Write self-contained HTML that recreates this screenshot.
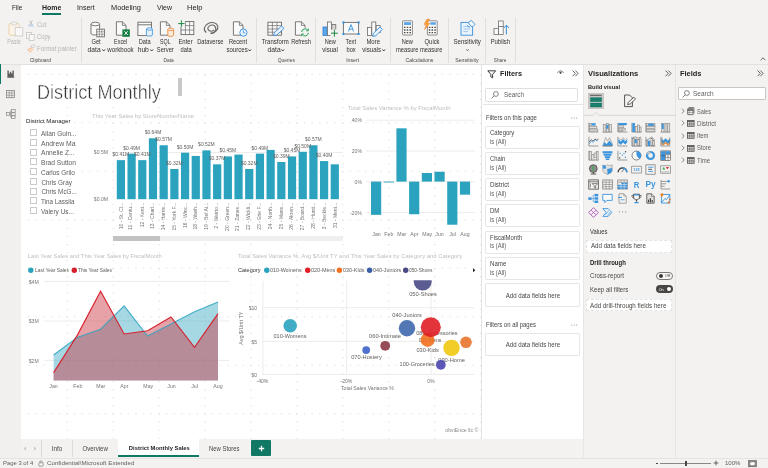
<!DOCTYPE html>
<html><head><meta charset="utf-8"><title>Power BI Desktop</title>
<style>
html,body{margin:0;padding:0;}
body{width:768px;height:468px;overflow:hidden;background:#f3f2f1;position:relative;font-family:"Liberation Sans",sans-serif;}
.t{position:absolute;white-space:nowrap;display:block;}
.b{position:absolute;box-sizing:border-box;display:block;overflow:visible;}
#root{position:absolute;left:0;top:0;width:768px;height:468px;will-change:transform;filter:blur(0.3px);}
</style></head><body><div id="root">
<div class="b" style="left:0.00px;top:63.50px;width:768.00px;height:1.00px;background:#e3e1df;"></div>
<div class="b" style="left:0.00px;top:64.50px;width:20.60px;height:393.00px;background:#f1f0ef;"></div>
<div class="b" style="left:0.00px;top:64.20px;width:1.35px;height:19.60px;background:#117865;"></div>
<div class="b" style="left:20.60px;top:64.50px;width:461.00px;height:374.60px;background:#ffffff;"></div>
<div class="b" style="left:481.00px;top:64.50px;width:1.00px;height:374.60px;background:#e6e4e2;"></div>
<div class="b" style="left:482.00px;top:64.50px;width:101.00px;height:374.60px;background:#ffffff;"></div>
<div class="b" style="left:583.00px;top:64.50px;width:1.00px;height:393.00px;background:#e8e6e4;"></div>
<div class="b" style="left:675.40px;top:64.50px;width:1.00px;height:393.00px;background:#e7e5e3;"></div>
<div class="b" style="left:20.60px;top:439.10px;width:562.40px;height:18.40px;background:#f3f2f1;"></div>
<div class="b" style="left:0.00px;top:457.50px;width:768.00px;height:1.00px;background:#e6e4e2;"></div>
<svg class="b" style="left:6.60px;top:69.60px;" width="8" height="8" viewBox="0 0 8 8"><path d="M0.4 7.4 V0.6 H1.8 V3.4 H2.9 V1.8 H4.3 V3.4 H5.4 V0.4 H6.8 V7.4 Z" fill="#605e5c"/><path d="M0.4 7.4 H7.4" stroke="#605e5c" stroke-width="0.6"/></svg>
<svg class="b" style="left:6.00px;top:89.80px;" width="9" height="8.4" viewBox="0 0 9 8.4"><rect x="0.5" y="0.5" width="8" height="7.2" fill="none" stroke="#8a8886" stroke-width="0.8"/><path d="M0.5 2.9 H8.5 M0.5 5.3 H8.5 M3.2 0.5 V7.7 M5.8 0.5 V7.7" stroke="#8a8886" stroke-width="0.65"/></svg>
<svg class="b" style="left:5.60px;top:109.20px;" width="10" height="10" viewBox="0 0 10 10"><rect x="0.5" y="3.6" width="3" height="3" fill="none" stroke="#8a8886" stroke-width="0.7"/><rect x="5.6" y="0.5" width="3.6" height="2.8" fill="none" stroke="#8a8886" stroke-width="0.7"/><rect x="5.6" y="3.8" width="3.6" height="2.6" fill="none" stroke="#8a8886" stroke-width="0.7"/><rect x="5.6" y="6.9" width="3.6" height="2.6" fill="none" stroke="#8a8886" stroke-width="0.7"/><path d="M3.5 5.1 H5.6 M4.5 1.9 V8.2 M4.5 1.9 H5.6 M4.5 8.2 H5.6" fill="none" stroke="#8a8886" stroke-width="0.6"/></svg>
<span class="t" style="left:11.70px;top:4.18px;font-size:7.3px;line-height:8.76px;color:#252423;transform-origin:0 50%;transform:scaleX(0.867);">File</span>
<span class="t" style="left:41.70px;top:4.18px;font-size:7.3px;line-height:8.76px;color:#252423;font-weight:bold;transform-origin:0 50%;transform:scaleX(0.952);">Home</span>
<div class="b" style="left:41.70px;top:13.40px;width:19.30px;height:1.30px;background:#117865;"></div>
<span class="t" style="left:76.60px;top:4.18px;font-size:7.3px;line-height:8.76px;color:#252423;transform-origin:0 50%;transform:scaleX(0.969);">Insert</span>
<span class="t" style="left:110.70px;top:4.18px;font-size:7.3px;line-height:8.76px;color:#252423;transform-origin:0 50%;transform:scaleX(1.009);">Modeling</span>
<span class="t" style="left:157.00px;top:4.18px;font-size:7.3px;line-height:8.76px;color:#252423;transform-origin:0 50%;transform:scaleX(0.956);">View</span>
<span class="t" style="left:187.00px;top:4.18px;font-size:7.3px;line-height:8.76px;color:#252423;transform-origin:0 50%;transform:scaleX(1.032);">Help</span>
<div class="b" style="left:81.00px;top:18.00px;width:1.00px;height:44.50px;background:#e1dfdd;"></div>
<div class="b" style="left:256.20px;top:18.00px;width:1.00px;height:44.50px;background:#e1dfdd;"></div>
<div class="b" style="left:315.30px;top:18.00px;width:1.00px;height:44.50px;background:#e1dfdd;"></div>
<div class="b" style="left:389.80px;top:18.00px;width:1.00px;height:44.50px;background:#e1dfdd;"></div>
<div class="b" style="left:447.50px;top:18.00px;width:1.00px;height:44.50px;background:#e1dfdd;"></div>
<div class="b" style="left:485.00px;top:18.00px;width:1.00px;height:44.50px;background:#e1dfdd;"></div>
<div class="b" style="left:515.00px;top:18.00px;width:1.00px;height:44.50px;background:#e1dfdd;"></div>
<span class="t" style="left:29.26px;top:57.19px;font-size:5.3px;line-height:6.36px;color:#4a4846;transform-origin:50% 50%;transform:scaleX(0.939);">Clipboard</span>
<span class="t" style="left:163.20px;top:57.19px;font-size:5.3px;line-height:6.36px;color:#4a4846;transform-origin:50% 50%;transform:scaleX(0.911);">Data</span>
<span class="t" style="left:277.12px;top:57.19px;font-size:5.3px;line-height:6.36px;color:#4a4846;transform-origin:50% 50%;transform:scaleX(0.927);">Queries</span>
<span class="t" style="left:346.37px;top:57.19px;font-size:5.3px;line-height:6.36px;color:#4a4846;transform-origin:50% 50%;transform:scaleX(0.981);">Insert</span>
<span class="t" style="left:405.06px;top:57.19px;font-size:5.3px;line-height:6.36px;color:#4a4846;transform-origin:50% 50%;transform:scaleX(0.970);">Calculations</span>
<span class="t" style="left:455.07px;top:57.19px;font-size:5.3px;line-height:6.36px;color:#4a4846;transform-origin:50% 50%;transform:scaleX(0.985);">Sensitivity</span>
<span class="t" style="left:493.23px;top:57.19px;font-size:5.3px;line-height:6.36px;color:#4a4846;transform-origin:50% 50%;transform:scaleX(0.884);">Share</span>
<svg class="b" style="left:7.50px;top:20.50px;" width="16" height="16" viewBox="0 0 16 16">
<rect x="1" y="2.6" width="10.2" height="11.6" rx="0.8" fill="#fbf3e8" stroke="#e9cfa8" stroke-width="0.9"/>
<rect x="3.6" y="1" width="5" height="3" rx="0.8" fill="#f3f2f1" stroke="#cfcdcb" stroke-width="0.8"/>
<rect x="7.2" y="6.6" width="7.6" height="8.4" fill="#f8f7f6" stroke="#cfcdcb" stroke-width="0.9"/>
</svg>
<span class="t" style="left:6.04px;top:38.08px;font-size:6.3px;line-height:7.56px;color:#b8b6b4;transform-origin:50% 50%;transform:scaleX(0.844);">Paste</span>
<svg class="b" style="left:28.00px;top:20.30px;" width="6" height="7.4" viewBox="0 0 6 7.4">
<path d="M1.6 0.4 L4 4.8 M4.4 0.4 L2 4.8" stroke="#b5b3b1" stroke-width="0.7" fill="none"/>
<circle cx="1.6" cy="5.6" r="0.9" fill="none" stroke="#9fc3e6" stroke-width="0.7"/>
<circle cx="4.4" cy="5.6" r="0.9" fill="none" stroke="#9fc3e6" stroke-width="0.7"/>
</svg>
<span class="t" style="left:36.50px;top:20.68px;font-size:6.3px;line-height:7.56px;color:#b8b6b4;transform-origin:0 50%;transform:scaleX(0.959);">Cut</span>
<svg class="b" style="left:26.40px;top:32.00px;" width="9" height="9" viewBox="0 0 9 9">
<rect x="0.6" y="0.6" width="5" height="6" fill="#f8f7f6" stroke="#c4c2c0" stroke-width="0.75"/>
<rect x="3.2" y="2.4" width="5" height="6" fill="#f8f7f6" stroke="#c4c2c0" stroke-width="0.75"/>
</svg>
<span class="t" style="left:36.50px;top:32.98px;font-size:6.3px;line-height:7.56px;color:#b8b6b4;transform-origin:0 50%;transform:scaleX(0.918);">Copy</span>
<svg class="b" style="left:26.80px;top:43.60px;" width="9" height="9" viewBox="0 0 9 9">
<path d="M4.2 1.6 L7.6 0.6 L8.2 2.8 L4.8 3.8 Z" fill="#f8f7f6" stroke="#c4c2c0" stroke-width="0.7"/>
<path d="M4 3.6 L0.8 5.6 L3 8.4 L5.8 5.6 Z" fill="#fbdcc2" stroke="#f0b489" stroke-width="0.75"/>
</svg>
<span class="t" style="left:36.50px;top:45.17px;font-size:6.3px;line-height:7.56px;color:#b8b6b4;transform-origin:0 50%;transform:scaleX(0.972);">Format painter</span>
<svg class="b" style="left:89.50px;top:20.50px;" width="16" height="17" viewBox="0 0 16 17">
<path d="M1 3 L1 12.6 C1 14.4 9.6 14.4 9.6 12.6 L9.6 3" fill="#fafafa" stroke="#6b6967" stroke-width="0.9"/>
<ellipse cx="5.3" cy="3" rx="4.3" ry="1.8" fill="#fafafa" stroke="#6b6967" stroke-width="0.9"/>
<rect x="6.8" y="8.2" width="7.6" height="7.6" fill="#fff" stroke="#6b6967" stroke-width="0.9"/>
<path d="M6.8 10.8 H14.4 M6.8 13.3 H14.4 M9.4 8.2 V15.8 M11.9 8.2 V15.8" stroke="#6b6967" stroke-width="0.6"/>
</svg>
<span class="t" style="left:90.72px;top:38.08px;font-size:6.3px;line-height:7.56px;color:#323130;transform-origin:50% 50%;transform:scaleX(0.916);">Get</span>
<span class="t" style="left:88.07px;top:45.98px;font-size:6.3px;line-height:7.56px;color:#323130;transform-origin:50% 50%;transform:scaleX(1.068);">data</span>
<svg class="b" style="left:101.55px;top:48.50px;" width="3.4" height="2.8" viewBox="0 0 3.4 2.8"><path d="M0.4 0.5 L1.7 2 L3 0.5" fill="none" stroke="#323130" stroke-width="1"/></svg>
<svg class="b" style="left:114.50px;top:20.50px;" width="16" height="17" viewBox="0 0 16 17">
<path d="M1.4 0.8 H7.4 L11 4.4 V14.2 H1.4 Z" fill="#fafafa" stroke="#6b6967" stroke-width="0.9"/>
<path d="M7.4 0.8 V4.4 H11" fill="none" stroke="#6b6967" stroke-width="0.8"/>
<rect x="7.4" y="8.4" width="7.4" height="7.4" fill="#107c41"/>
<path d="M9.4 10.2 L12.8 14 M12.8 10.2 L9.4 14" stroke="#fff" stroke-width="0.9"/>
</svg>
<span class="t" style="left:112.70px;top:38.08px;font-size:6.3px;line-height:7.56px;color:#323130;transform-origin:50% 50%;transform:scaleX(0.857);">Excel</span>
<span class="t" style="left:106.92px;top:45.98px;font-size:6.3px;line-height:7.56px;color:#323130;transform-origin:50% 50%;transform:scaleX(0.975);">workbook</span>
<svg class="b" style="left:137.00px;top:20.50px;" width="17" height="17" viewBox="0 0 17 17">
<rect x="0.9" y="1.2" width="13.6" height="13.4" fill="#fafafa" stroke="#6b6967" stroke-width="0.9"/>
<path d="M0.9 3.8 H14.5" stroke="#6b6967" stroke-width="0.9"/>
<path d="M9.4 8 V14 C9.4 15.4 15.4 15.4 15.4 14 V8" fill="#e8f2fb" stroke="#4a9be0" stroke-width="0.9"/>
<ellipse cx="12.4" cy="8" rx="3" ry="1.2" fill="#e8f2fb" stroke="#4a9be0" stroke-width="0.9"/>
</svg>
<span class="t" style="left:138.15px;top:38.08px;font-size:6.3px;line-height:7.56px;color:#323130;transform-origin:50% 50%;transform:scaleX(0.902);">Data</span>
<span class="t" style="left:137.94px;top:45.98px;font-size:6.3px;line-height:7.56px;color:#323130;transform-origin:50% 50%;transform:scaleX(1.065);">hub</span>
<svg class="b" style="left:149.60px;top:48.50px;" width="3.4" height="2.8" viewBox="0 0 3.4 2.8"><path d="M0.4 0.5 L1.7 2 L3 0.5" fill="none" stroke="#323130" stroke-width="1"/></svg>
<svg class="b" style="left:158.50px;top:20.50px;" width="17" height="17" viewBox="0 0 17 17">
<path d="M1.4 0.8 H7.4 L11 4.4 V14.2 H1.4 Z" fill="#fafafa" stroke="#6b6967" stroke-width="0.9"/>
<path d="M7.4 0.8 V4.4 H11" fill="none" stroke="#6b6967" stroke-width="0.8"/>
<path d="M8.8 8.4 V14.4 C8.8 15.7 14.6 15.7 14.6 14.4 V8.4" fill="#fdebdc" stroke="#e8893f" stroke-width="0.9"/>
<ellipse cx="11.7" cy="8.4" rx="2.9" ry="1.2" fill="#fdebdc" stroke="#e8893f" stroke-width="0.9"/>
</svg>
<span class="t" style="left:159.30px;top:38.08px;font-size:6.3px;line-height:7.56px;color:#323130;transform-origin:50% 50%;transform:scaleX(0.849);">SQL</span>
<span class="t" style="left:156.32px;top:45.98px;font-size:6.3px;line-height:7.56px;color:#323130;transform-origin:50% 50%;transform:scaleX(0.916);">Server</span>
<svg class="b" style="left:177.50px;top:19.50px;" width="17" height="17" viewBox="0 0 17 17">
<rect x="3" y="1.6" width="12.8" height="13" fill="#fafafa" stroke="#6b6967" stroke-width="0.9"/>
<path d="M3 5.6 H15.8 M3 10 H15.8 M7.4 1.6 V14.6 M11.6 1.6 V14.6" stroke="#6b6967" stroke-width="0.7"/>
<rect x="0" y="0" width="7" height="7" fill="#f3f2f1"/>
<path d="M3.4 0.4 V6.8 M0.2 3.6 H6.6" stroke="#1a8a44" stroke-width="1"/>
</svg>
<span class="t" style="left:178.17px;top:38.08px;font-size:6.3px;line-height:7.56px;color:#323130;transform-origin:50% 50%;transform:scaleX(0.950);">Enter</span>
<span class="t" style="left:179.57px;top:45.98px;font-size:6.3px;line-height:7.56px;color:#323130;transform-origin:50% 50%;transform:scaleX(0.913);">data</span>
<svg class="b" style="left:202.50px;top:21.00px;" width="17" height="14" viewBox="0 0 17 14">
<g transform="rotate(-18 8.5 7)" fill="none" stroke="#6b6967">
<path d="M2.2 9.6 A6.9 5.3 0 1 1 6 11.9" stroke-width="1.15"/>
<path d="M12.2 6.2 A3.8 2.9 0 1 0 10.4 9.6" stroke-width="1.15"/>
<path d="M6 11.9 C9.6 13 13.6 10.6 12.2 6.2" stroke-width="1.15"/>
<path d="M2.2 9.6 C1.4 7.6 3 4.6 6.4 4.4" stroke-width="0.01"/>
</g>
</svg>
<span class="t" style="left:196.04px;top:38.08px;font-size:6.3px;line-height:7.56px;color:#323130;transform-origin:50% 50%;transform:scaleX(0.916);">Dataverse</span>
<svg class="b" style="left:231.50px;top:20.50px;" width="17" height="17" viewBox="0 0 17 17">
<path d="M1.4 0.8 H7.4 L11 4.4 V14.2 H1.4 Z" fill="#fafafa" stroke="#6b6967" stroke-width="0.9"/>
<path d="M7.4 0.8 V4.4 H11" fill="none" stroke="#6b6967" stroke-width="0.8"/>
<circle cx="11.4" cy="11.6" r="3.6" fill="#eef6fd" stroke="#2f8fe0" stroke-width="0.9"/>
<path d="M11.4 9.4 V11.8 H13.2" fill="none" stroke="#2f8fe0" stroke-width="0.8"/>
</svg>
<span class="t" style="left:228.42px;top:38.08px;font-size:6.3px;line-height:7.56px;color:#323130;transform-origin:50% 50%;transform:scaleX(0.912);">Recent</span>
<span class="t" style="left:225.77px;top:45.98px;font-size:6.3px;line-height:7.56px;color:#323130;transform-origin:50% 50%;transform:scaleX(0.966);">sources</span>
<svg class="b" style="left:248.25px;top:48.50px;" width="3.4" height="2.8" viewBox="0 0 3.4 2.8"><path d="M0.4 0.5 L1.7 2 L3 0.5" fill="none" stroke="#323130" stroke-width="1"/></svg>
<svg class="b" style="left:267.00px;top:20.50px;" width="18" height="17" viewBox="0 0 18 17">
<rect x="0.9" y="1.2" width="13.6" height="13" fill="#fafafa" stroke="#6b6967" stroke-width="0.9"/>
<path d="M0.9 4.6 H14.5 M0.9 8 H14.5 M0.9 11.2 H14.5 M5.4 1.2 V14.2 M10 1.2 V14.2" stroke="#6b6967" stroke-width="0.7"/>
<path d="M6.6 14.6 L7.4 11.6 L14.6 5 L17 7.4 L9.8 14 Z" fill="#e9f3fc" stroke="#3a8fdc" stroke-width="0.9"/>
</svg>
<span class="t" style="left:261.16px;top:38.08px;font-size:6.3px;line-height:7.56px;color:#323130;transform-origin:50% 50%;transform:scaleX(0.952);">Transform</span>
<span class="t" style="left:267.67px;top:45.98px;font-size:6.3px;line-height:7.56px;color:#323130;transform-origin:50% 50%;transform:scaleX(1.068);">data</span>
<svg class="b" style="left:281.15px;top:48.50px;" width="3.4" height="2.8" viewBox="0 0 3.4 2.8"><path d="M0.4 0.5 L1.7 2 L3 0.5" fill="none" stroke="#323130" stroke-width="1"/></svg>
<svg class="b" style="left:294.00px;top:20.50px;" width="17" height="17" viewBox="0 0 17 17">
<path d="M1.4 0.8 H7.4 L11 4.4 V14.2 H1.4 Z" fill="#fafafa" stroke="#6b6967" stroke-width="0.9"/>
<path d="M7.4 0.8 V4.4 H11" fill="none" stroke="#6b6967" stroke-width="0.8"/>
<circle cx="11" cy="11.4" r="4.6" fill="#f3f2f1"/>
<path d="M7.6 11 A3.5 3.5 0 0 1 14 9.4 M14.4 11.8 A3.5 3.5 0 0 1 8 13.4" fill="none" stroke="#27a35a" stroke-width="1"/>
<path d="M14.4 7.6 V9.8 H12.2 M7.6 15.2 V13 H9.8" fill="none" stroke="#27a35a" stroke-width="0.9"/>
</svg>
<span class="t" style="left:289.67px;top:38.08px;font-size:6.3px;line-height:7.56px;color:#323130;transform-origin:50% 50%;transform:scaleX(0.898);">Refresh</span>
<svg class="b" style="left:322.00px;top:20.50px;" width="17" height="17" viewBox="0 0 17 17">
<rect x="1" y="6" width="4" height="8.4" fill="#5ca8ec" stroke="#2f7fd0" stroke-width="0.8"/>
<rect x="5.4" y="1" width="4" height="13.4" fill="#fafafa" stroke="#6b6967" stroke-width="0.8"/>
<rect x="9.8" y="3.6" width="4" height="8" fill="#d8d6d4" stroke="#6b6967" stroke-width="0.8"/>
<rect x="8.4" y="8.6" width="7.6" height="7.6" fill="#f3f2f1"/>
<path d="M12.4 8.8 V15.6 M9 12.2 H15.8" stroke="#1a8a44" stroke-width="1"/>
</svg>
<span class="t" style="left:324.10px;top:38.08px;font-size:6.3px;line-height:7.56px;color:#323130;transform-origin:50% 50%;transform:scaleX(0.889);">New</span>
<span class="t" style="left:322.35px;top:45.98px;font-size:6.3px;line-height:7.56px;color:#323130;transform-origin:50% 50%;transform:scaleX(0.969);">visual</span>
<svg class="b" style="left:341.50px;top:20.50px;" width="18" height="15" viewBox="0 0 18 15">
<rect x="1.4" y="1.4" width="15.2" height="11.6" fill="#fafafa" stroke="#6b6967" stroke-width="0.9"/>
<rect x="0.4" y="0.4" width="2" height="2" fill="#2f8fe0"/><rect x="15.6" y="0.4" width="2" height="2" fill="#2f8fe0"/>
<rect x="0.4" y="12" width="2" height="2" fill="#2f8fe0"/><rect x="15.6" y="12" width="2" height="2" fill="#2f8fe0"/>
<path d="M6.4 10.4 L9 3.6 L11.6 10.4 M7.3 8.2 H10.7" fill="none" stroke="#2f8fe0" stroke-width="0.9"/>
</svg>
<span class="t" style="left:344.82px;top:38.08px;font-size:6.3px;line-height:7.56px;color:#323130;transform-origin:50% 50%;transform:scaleX(0.900);">Text</span>
<span class="t" style="left:345.52px;top:45.98px;font-size:6.3px;line-height:7.56px;color:#323130;transform-origin:50% 50%;transform:scaleX(0.906);">box</span>
<svg class="b" style="left:366.00px;top:20.50px;" width="18" height="17" viewBox="0 0 18 17">
<rect x="1.4" y="6.4" width="4" height="8" fill="#fafafa" stroke="#6b6967" stroke-width="0.8"/>
<rect x="5.8" y="1" width="4" height="13.4" fill="#fafafa" stroke="#6b6967" stroke-width="0.8"/>
<rect x="10.2" y="4.6" width="4" height="7" fill="#fafafa" stroke="#6b6967" stroke-width="0.8"/>
<path d="M6.6 15.4 L7.4 12.4 L14 6 L16.4 8.4 L9.8 14.8 Z" fill="#e9f3fc" stroke="#3a8fdc" stroke-width="0.9"/>
</svg>
<span class="t" style="left:365.82px;top:38.08px;font-size:6.3px;line-height:7.56px;color:#323130;transform-origin:50% 50%;transform:scaleX(0.947);">More</span>
<span class="t" style="left:361.77px;top:45.98px;font-size:6.3px;line-height:7.56px;color:#323130;transform-origin:50% 50%;transform:scaleX(0.971);">visuals</span>
<svg class="b" style="left:381.55px;top:48.50px;" width="3.4" height="2.8" viewBox="0 0 3.4 2.8"><path d="M0.4 0.5 L1.7 2 L3 0.5" fill="none" stroke="#323130" stroke-width="1"/></svg>
<svg class="b" style="left:400.50px;top:20.00px;" width="14" height="16" viewBox="0 0 14 16">
<rect x="1.6" y="0.8" width="9.8" height="14.2" rx="0.5" fill="#fcfcfb" stroke="#6b6967" stroke-width="0.75"/>
<rect x="3" y="2.2" width="7" height="2.8" fill="#5aa5e6"/>
<path d="M3 7.4 h1.5 M5.75 7.4 h1.5 M8.5 7.4 h1.5 M3 10 h1.5 M5.75 10 h1.5 M8.5 10 h1.5 M3 12.6 h1.5 M5.75 12.6 h1.5 M8.5 12.6 h1.5" stroke="#484644" stroke-width="1.3"/>
</svg>
<span class="t" style="left:400.70px;top:38.08px;font-size:6.3px;line-height:7.56px;color:#323130;transform-origin:50% 50%;transform:scaleX(0.889);">New</span>
<span class="t" style="left:394.74px;top:45.98px;font-size:6.3px;line-height:7.56px;color:#323130;transform-origin:50% 50%;transform:scaleX(0.918);">measure</span>
<svg class="b" style="left:422.50px;top:19.00px;" width="17" height="17" viewBox="0 0 17 17">
<rect x="4.4" y="1.8" width="9.8" height="14.2" rx="0.5" fill="#fcfcfb" stroke="#6b6967" stroke-width="0.75"/>
<rect x="7.4" y="3.2" width="5.4" height="2.6" fill="#5aa5e6"/>
<path d="M5.8 8.4 h1.5 M8.55 8.4 h1.5 M11.3 8.4 h1.5 M5.8 11 h1.5 M8.55 11 h1.5 M11.3 11 h1.5 M5.8 13.6 h1.5 M8.55 13.6 h1.5 M11.3 13.6 h1.5" stroke="#484644" stroke-width="1.3"/>
<path d="M3.8 0.2 L1 5.6 H3.2 L1.6 10.6 L7 4.2 H4.4 L6.6 0.2 Z" fill="#f7a43c" stroke="#ea7a2c" stroke-width="0.5"/>
</svg>
<span class="t" style="left:423.65px;top:38.08px;font-size:6.3px;line-height:7.56px;color:#323130;transform-origin:50% 50%;transform:scaleX(0.931);">Quick</span>
<span class="t" style="left:419.44px;top:45.98px;font-size:6.3px;line-height:7.56px;color:#323130;transform-origin:50% 50%;transform:scaleX(0.918);">measure</span>
<svg class="b" style="left:459.50px;top:20.00px;" width="16" height="17" viewBox="0 0 16 17">
<rect x="1" y="2.4" width="11.6" height="12.8" fill="#e9f3fc" stroke="#3a8fdc" stroke-width="0.9"/>
<path d="M3.4 6.4 H10.2 M3.4 9 H10.2 M3.4 11.6 H8" stroke="#8dbde8" stroke-width="0.8"/>
<path d="M8.2 2.6 L11.4 0.4 L15 4.4 L12 7.2 Z" fill="#fafafa" stroke="#3a8fdc" stroke-width="0.9"/>
<path d="M7.4 5.4 L9.4 7.8" stroke="#3a8fdc" stroke-width="0.9"/>
</svg>
<span class="t" style="left:452.82px;top:38.08px;font-size:6.3px;line-height:7.56px;color:#323130;transform-origin:50% 50%;transform:scaleX(0.970);">Sensitivity</span>
<svg class="b" style="left:465.50px;top:49.20px;" width="3" height="2.4" viewBox="0 0 3 2.4"><path d="M0.3 0.4 L1.5 1.8 L2.7 0.4" fill="none" stroke="#323130" stroke-width="0.7"/></svg>
<svg class="b" style="left:492.50px;top:20.00px;" width="17" height="17" viewBox="0 0 17 17">
<rect x="5.6" y="1" width="4.6" height="5.4" fill="#fafafa" stroke="#6b6967" stroke-width="0.75"/>
<rect x="1" y="8.4" width="4.6" height="6" fill="#fafafa" stroke="#6b6967" stroke-width="0.75"/>
<rect x="5.6" y="6.4" width="4.6" height="8" fill="#fafafa" stroke="#6b6967" stroke-width="0.75"/>
<path d="M13.4 14.4 V5.4 M10.8 8 L13.4 5.2 L16 8" fill="none" stroke="#3a8fdc" stroke-width="1"/>
</svg>
<span class="t" style="left:490.17px;top:38.08px;font-size:6.3px;line-height:7.56px;color:#323130;transform-origin:50% 50%;transform:scaleX(0.939);">Publish</span>
<svg class="b" style="left:759.50px;top:57.20px;" width="6" height="4" viewBox="0 0 6 4"><path d="M0.6 3.2 L3 0.8 L5.4 3.2" fill="none" stroke="#484644" stroke-width="0.8"/></svg>
<svg class="b" style="left:0.00px;top:0.00px;" width="768" height="468" viewBox="0 0 768 468"><path d="M28.15 74.2 H480" stroke="#dedcda" stroke-width="1.1" stroke-dasharray="1.1 6.56"/><path d="M28.15 122.7 H480" stroke="#dedcda" stroke-width="1.1" stroke-dasharray="1.1 6.56"/><path d="M28.15 171.2 H480" stroke="#dedcda" stroke-width="1.1" stroke-dasharray="1.1 6.56"/><path d="M28.15 219.7 H480" stroke="#dedcda" stroke-width="1.1" stroke-dasharray="1.1 6.56"/><path d="M28.15 268.2 H480" stroke="#dedcda" stroke-width="1.1" stroke-dasharray="1.1 6.56"/><path d="M28.15 316.7 H480" stroke="#dedcda" stroke-width="1.1" stroke-dasharray="1.1 6.56"/><path d="M28.15 365.2 H480" stroke="#dedcda" stroke-width="1.1" stroke-dasharray="1.1 6.56"/><path d="M28.15 413.7 H480" stroke="#dedcda" stroke-width="1.1" stroke-dasharray="1.1 6.56"/><path d="M67.3 74.6 V438.9" stroke="#dedcda" stroke-width="1.1" stroke-dasharray="1.1 6.97"/><path d="M113.2 74.6 V438.9" stroke="#dedcda" stroke-width="1.1" stroke-dasharray="1.1 6.97"/><path d="M159.2 74.6 V438.9" stroke="#dedcda" stroke-width="1.1" stroke-dasharray="1.1 6.97"/><path d="M205.1 74.6 V438.9" stroke="#dedcda" stroke-width="1.1" stroke-dasharray="1.1 6.97"/><path d="M251.0 74.6 V438.9" stroke="#dedcda" stroke-width="1.1" stroke-dasharray="1.1 6.97"/><path d="M296.9 74.6 V438.9" stroke="#dedcda" stroke-width="1.1" stroke-dasharray="1.1 6.97"/><path d="M342.9 74.6 V438.9" stroke="#dedcda" stroke-width="1.1" stroke-dasharray="1.1 6.97"/><path d="M388.8 74.6 V438.9" stroke="#dedcda" stroke-width="1.1" stroke-dasharray="1.1 6.97"/><path d="M434.7 74.6 V438.9" stroke="#dedcda" stroke-width="1.1" stroke-dasharray="1.1 6.97"/><path d="M480.8 74.6 V438.9" stroke="#dedcda" stroke-width="1.1" stroke-dasharray="1.1 6.97"/></svg>
<span class="t" style="left:36.80px;top:81.24px;font-size:19.5px;line-height:23.40px;color:#333333;transform-origin:0 50%;transform:scaleX(0.929);-webkit-text-stroke:0.45px #ffffff;">District Monthly</span>
<div class="b" style="left:178.30px;top:77.60px;width:3.70px;height:18.00px;background:#c8c8c8;"></div>
<span class="t" style="left:26.30px;top:116.79px;font-size:6.2px;line-height:7.44px;color:#252423;transform-origin:0 50%;transform:scaleX(0.986);">District Manager</span>
<div class="b" style="left:30.30px;top:129.10px;width:7.00px;height:7.00px;background:#fff;border:0.8px solid #cccac8;"></div>
<span class="t" style="left:41.40px;top:129.78px;font-size:6.4px;line-height:7.68px;color:#605e5c;transform-origin:0 50%;transform:scaleX(1.018);">Allan Guin...</span>
<div class="b" style="left:30.30px;top:138.85px;width:7.00px;height:7.00px;background:#fff;border:0.8px solid #cccac8;"></div>
<span class="t" style="left:41.40px;top:139.53px;font-size:6.4px;line-height:7.68px;color:#605e5c;transform-origin:0 50%;transform:scaleX(1.066);">Andrew Ma</span>
<div class="b" style="left:30.30px;top:148.60px;width:7.00px;height:7.00px;background:#fff;border:0.8px solid #cccac8;"></div>
<span class="t" style="left:41.40px;top:149.28px;font-size:6.4px;line-height:7.68px;color:#605e5c;transform-origin:0 50%;transform:scaleX(1.035);">Annelie Z...</span>
<div class="b" style="left:30.30px;top:158.35px;width:7.00px;height:7.00px;background:#fff;border:0.8px solid #cccac8;"></div>
<span class="t" style="left:41.40px;top:159.03px;font-size:6.4px;line-height:7.68px;color:#605e5c;transform-origin:0 50%;transform:scaleX(1.035);">Brad Sutton</span>
<div class="b" style="left:30.30px;top:168.10px;width:7.00px;height:7.00px;background:#fff;border:0.8px solid #cccac8;"></div>
<span class="t" style="left:41.40px;top:168.78px;font-size:6.4px;line-height:7.68px;color:#605e5c;transform-origin:0 50%;transform:scaleX(1.006);">Carlos Grilo</span>
<div class="b" style="left:30.30px;top:177.85px;width:7.00px;height:7.00px;background:#fff;border:0.8px solid #cccac8;"></div>
<span class="t" style="left:41.40px;top:178.53px;font-size:6.4px;line-height:7.68px;color:#605e5c;">Chris Gray</span>
<div class="b" style="left:30.30px;top:187.60px;width:7.00px;height:7.00px;background:#fff;border:0.8px solid #cccac8;"></div>
<span class="t" style="left:41.40px;top:188.28px;font-size:6.4px;line-height:7.68px;color:#605e5c;">Chris McG...</span>
<div class="b" style="left:30.30px;top:197.35px;width:7.00px;height:7.00px;background:#fff;border:0.8px solid #cccac8;"></div>
<span class="t" style="left:41.40px;top:198.03px;font-size:6.4px;line-height:7.68px;color:#605e5c;transform-origin:0 50%;transform:scaleX(0.988);">Tina Lassila</span>
<div class="b" style="left:30.30px;top:207.10px;width:7.00px;height:7.00px;background:#fff;border:0.8px solid #cccac8;"></div>
<span class="t" style="left:41.40px;top:207.78px;font-size:6.4px;line-height:7.68px;color:#605e5c;transform-origin:0 50%;transform:scaleX(1.012);">Valery Us...</span>
<span class="t" style="left:92.00px;top:112.56px;font-size:5.8px;line-height:6.96px;color:#c0bebc;transform-origin:0 50%;transform:scaleX(1.024);">This Year Sales by StoreNumberName</span>
<span class="t" style="left:92.99px;top:149.36px;font-size:5.4px;line-height:6.48px;color:#777573;transform-origin:100% 50%;transform:scaleX(0.946);">$0.5M</span>
<span class="t" style="left:92.99px;top:195.86px;font-size:5.4px;line-height:6.48px;color:#777573;transform-origin:100% 50%;transform:scaleX(0.946);">$0.0M</span>
<svg class="b" style="left:0.00px;top:0.00px;" width="768" height="468" viewBox="0 0 768 468"><path d="M112 152.5 H343" stroke="#eceae8" stroke-width="0.9"/><rect x="116.80" y="160.14" width="8.2" height="39.06" fill="#2ba3bf"/><rect x="127.50" y="153.63" width="8.2" height="45.57" fill="#2ba3bf"/><rect x="138.19" y="160.14" width="8.2" height="39.06" fill="#2ba3bf"/><rect x="148.88" y="138.28" width="8.2" height="60.91" fill="#2ba3bf"/><rect x="159.58" y="145.26" width="8.2" height="53.94" fill="#2ba3bf"/><rect x="170.28" y="168.97" width="8.2" height="30.23" fill="#2ba3bf"/><rect x="180.97" y="152.70" width="8.2" height="46.50" fill="#2ba3bf"/><rect x="191.67" y="155.95" width="8.2" height="43.25" fill="#2ba3bf"/><rect x="202.36" y="150.38" width="8.2" height="48.83" fill="#2ba3bf"/><rect x="213.06" y="164.32" width="8.2" height="34.88" fill="#2ba3bf"/><rect x="223.75" y="156.42" width="8.2" height="42.78" fill="#2ba3bf"/><rect x="234.44" y="154.56" width="8.2" height="44.64" fill="#2ba3bf"/><rect x="245.14" y="168.97" width="8.2" height="30.23" fill="#2ba3bf"/><rect x="255.83" y="153.63" width="8.2" height="45.57" fill="#2ba3bf"/><rect x="266.53" y="149.91" width="8.2" height="49.29" fill="#2ba3bf"/><rect x="277.23" y="162.00" width="8.2" height="37.20" fill="#2ba3bf"/><rect x="287.92" y="156.42" width="8.2" height="42.78" fill="#2ba3bf"/><rect x="298.62" y="151.77" width="8.2" height="47.43" fill="#2ba3bf"/><rect x="309.31" y="145.26" width="8.2" height="53.94" fill="#2ba3bf"/><rect x="320.00" y="161.07" width="8.2" height="38.13" fill="#2ba3bf"/><rect x="330.70" y="164.32" width="8.2" height="34.88" fill="#2ba3bf"/></svg>
<span class="t" style="left:112.56px;top:151.03px;font-size:5px;line-height:6.00px;color:#605e5c;">$0.41M</span>
<span class="t" style="left:94.50px;top:200.20px;font-size:5px;line-height:5.6px;color:#777573;transform-origin:100% 50%;transform:rotate(-90deg);">10 - St. Cl...</span>
<span class="t" style="left:123.26px;top:144.52px;font-size:5px;line-height:6.00px;color:#605e5c;">$0.49M</span>
<span class="t" style="left:104.45px;top:200.20px;font-size:5px;line-height:5.6px;color:#777573;transform-origin:100% 50%;transform:rotate(-90deg);">11 - Centu...</span>
<span class="t" style="left:133.95px;top:151.03px;font-size:5px;line-height:6.00px;color:#605e5c;">$0.41M</span>
<span class="t" style="left:117.83px;top:200.20px;font-size:5px;line-height:5.6px;color:#777573;transform-origin:100% 50%;transform:rotate(-90deg);">12 - Kent...</span>
<span class="t" style="left:144.65px;top:129.17px;font-size:5px;line-height:6.00px;color:#605e5c;">$0.64M</span>
<span class="t" style="left:126.86px;top:200.20px;font-size:5px;line-height:5.6px;color:#777573;transform-origin:100% 50%;transform:rotate(-90deg);">13 - Charl...</span>
<span class="t" style="left:155.34px;top:136.15px;font-size:5px;line-height:6.00px;color:#605e5c;">$0.57M</span>
<span class="t" style="left:136.17px;top:200.20px;font-size:5px;line-height:5.6px;color:#777573;transform-origin:100% 50%;transform:rotate(-90deg);">14 - Harris...</span>
<span class="t" style="left:166.04px;top:159.86px;font-size:5px;line-height:6.00px;color:#605e5c;">$0.32M</span>
<span class="t" style="left:146.58px;top:200.20px;font-size:5px;line-height:5.6px;color:#777573;transform-origin:100% 50%;transform:rotate(-90deg);">15 - York F...</span>
<span class="t" style="left:176.73px;top:143.59px;font-size:5px;line-height:6.00px;color:#605e5c;">$0.50M</span>
<span class="t" style="left:159.79px;top:200.20px;font-size:5px;line-height:5.6px;color:#777573;transform-origin:100% 50%;transform:rotate(-90deg);">16 - Winc...</span>
<span class="t" style="left:169.00px;top:200.20px;font-size:5px;line-height:5.6px;color:#777573;transform-origin:100% 50%;transform:rotate(-90deg);">18 - Wash...</span>
<span class="t" style="left:198.12px;top:141.26px;font-size:5px;line-height:6.00px;color:#605e5c;">$0.52M</span>
<span class="t" style="left:179.50px;top:200.20px;font-size:5px;line-height:5.6px;color:#777573;transform-origin:100% 50%;transform:rotate(-90deg);">19 - Bel Ai...</span>
<span class="t" style="left:208.82px;top:155.21px;font-size:5px;line-height:6.00px;color:#605e5c;">$0.37M</span>
<span class="t" style="left:191.41px;top:200.20px;font-size:5px;line-height:5.6px;color:#777573;transform-origin:100% 50%;transform:rotate(-90deg);">2 - Weirto...</span>
<span class="t" style="left:219.51px;top:147.31px;font-size:5px;line-height:6.00px;color:#605e5c;">$0.45M</span>
<span class="t" style="left:199.78px;top:200.20px;font-size:5px;line-height:5.6px;color:#777573;transform-origin:100% 50%;transform:rotate(-90deg);">20 - Green...</span>
<span class="t" style="left:210.48px;top:200.20px;font-size:5px;line-height:5.6px;color:#777573;transform-origin:100% 50%;transform:rotate(-90deg);">21 - Zanes...</span>
<span class="t" style="left:240.90px;top:159.86px;font-size:5px;line-height:6.00px;color:#605e5c;">$0.32M</span>
<span class="t" style="left:222.02px;top:200.20px;font-size:5px;line-height:5.6px;color:#777573;transform-origin:100% 50%;transform:rotate(-90deg);">22 - Wickli...</span>
<span class="t" style="left:251.60px;top:144.52px;font-size:5px;line-height:6.00px;color:#605e5c;">$0.49M</span>
<span class="t" style="left:232.98px;top:200.20px;font-size:5px;line-height:5.6px;color:#777573;transform-origin:100% 50%;transform:rotate(-90deg);">23 - Erie F...</span>
<span class="t" style="left:244.23px;top:200.20px;font-size:5px;line-height:5.6px;color:#777573;transform-origin:100% 50%;transform:rotate(-90deg);">24 - North...</span>
<span class="t" style="left:272.99px;top:152.89px;font-size:5px;line-height:6.00px;color:#605e5c;">$0.39M</span>
<span class="t" style="left:254.93px;top:200.20px;font-size:5px;line-height:5.6px;color:#777573;transform-origin:100% 50%;transform:rotate(-90deg);">25 - Mans...</span>
<span class="t" style="left:283.68px;top:147.31px;font-size:5px;line-height:6.00px;color:#605e5c;">$0.45M</span>
<span class="t" style="left:265.06px;top:200.20px;font-size:5px;line-height:5.6px;color:#777573;transform-origin:100% 50%;transform:rotate(-90deg);">26 - Akron...</span>
<span class="t" style="left:294.38px;top:142.66px;font-size:5px;line-height:6.00px;color:#605e5c;">$0.50M</span>
<span class="t" style="left:275.20px;top:200.20px;font-size:5px;line-height:5.6px;color:#777573;transform-origin:100% 50%;transform:rotate(-90deg);">27 - Board...</span>
<span class="t" style="left:305.07px;top:136.15px;font-size:5px;line-height:6.00px;color:#605e5c;">$0.57M</span>
<span class="t" style="left:287.57px;top:200.20px;font-size:5px;line-height:5.6px;color:#777573;transform-origin:100% 50%;transform:rotate(-90deg);">28 - Hunti...</span>
<span class="t" style="left:315.77px;top:151.96px;font-size:5px;line-height:6.00px;color:#605e5c;">$0.40M</span>
<span class="t" style="left:297.71px;top:200.20px;font-size:5px;line-height:5.6px;color:#777573;transform-origin:100% 50%;transform:rotate(-90deg);">3 - Beckle...</span>
<span class="t" style="left:309.51px;top:200.20px;font-size:5px;line-height:5.6px;color:#777573;transform-origin:100% 50%;transform:rotate(-90deg);">31 - Ment...</span>
<div class="b" style="left:112.80px;top:236.40px;width:230.40px;height:4.20px;background:#efefef;"></div>
<div class="b" style="left:112.80px;top:236.40px;width:47.50px;height:4.20px;background:#c2c2c2;"></div>
<span class="t" style="left:348.00px;top:105.06px;font-size:5.8px;line-height:6.96px;color:#c0bebc;transform-origin:0 50%;transform:scaleX(1.027);">Total Sales Variance % by FiscalMonth</span>
<span class="t" style="left:350.59px;top:117.39px;font-size:5.5px;line-height:6.60px;color:#777573;transform-origin:100% 50%;transform:scaleX(0.930);">40%</span>
<span class="t" style="left:350.59px;top:148.19px;font-size:5.5px;line-height:6.60px;color:#777573;transform-origin:100% 50%;transform:scaleX(0.930);">20%</span>
<span class="t" style="left:353.65px;top:178.79px;font-size:5.5px;line-height:6.60px;color:#777573;transform-origin:100% 50%;transform:scaleX(0.930);">0%</span>
<span class="t" style="left:348.76px;top:209.79px;font-size:5.5px;line-height:6.60px;color:#777573;transform-origin:100% 50%;transform:scaleX(0.930);">-20%</span>
<span class="t" style="left:371.59px;top:231.06px;font-size:5.6px;line-height:6.72px;color:#777573;transform-origin:50% 50%;transform:scaleX(0.930);">Jan</span>
<span class="t" style="left:383.98px;top:231.06px;font-size:5.6px;line-height:6.72px;color:#777573;transform-origin:50% 50%;transform:scaleX(0.930);">Feb</span>
<span class="t" style="left:396.68px;top:231.06px;font-size:5.6px;line-height:6.72px;color:#777573;transform-origin:50% 50%;transform:scaleX(0.930);">Mar</span>
<span class="t" style="left:409.84px;top:231.06px;font-size:5.6px;line-height:6.72px;color:#777573;transform-origin:50% 50%;transform:scaleX(0.930);">Apr</span>
<span class="t" style="left:421.61px;top:231.06px;font-size:5.6px;line-height:6.72px;color:#777573;transform-origin:50% 50%;transform:scaleX(0.930);">May</span>
<span class="t" style="left:435.09px;top:231.06px;font-size:5.6px;line-height:6.72px;color:#777573;transform-origin:50% 50%;transform:scaleX(0.930);">Jun</span>
<span class="t" style="left:448.72px;top:231.06px;font-size:5.6px;line-height:6.72px;color:#777573;transform-origin:50% 50%;transform:scaleX(0.930);">Jul</span>
<span class="t" style="left:460.02px;top:231.06px;font-size:5.6px;line-height:6.72px;color:#777573;transform-origin:50% 50%;transform:scaleX(0.930);">Aug</span>
<svg class="b" style="left:0.00px;top:0.00px;" width="768" height="468" viewBox="0 0 768 468"><path d="M366 120.2 H475" stroke="#eceae8" stroke-width="0.9"/><path d="M366 151.0 H475" stroke="#eceae8" stroke-width="0.9"/><path d="M366 181.6 H475" stroke="#eceae8" stroke-width="0.9"/><path d="M366 212.6 H475" stroke="#eceae8" stroke-width="0.9"/><rect x="371.00" y="181.60" width="10.2" height="33.26" fill="#2ba3bf"/><rect x="383.70" y="181.60" width="10.2" height="0.92" fill="#2ba3bf"/><rect x="396.40" y="128.32" width="10.2" height="53.28" fill="#2ba3bf"/><rect x="409.10" y="181.60" width="10.2" height="32.65" fill="#2ba3bf"/><rect x="421.80" y="172.98" width="10.2" height="8.62" fill="#2ba3bf"/><rect x="434.50" y="171.74" width="10.2" height="9.86" fill="#2ba3bf"/><rect x="447.20" y="181.60" width="10.2" height="43.12" fill="#2ba3bf"/><rect x="459.90" y="181.60" width="10.2" height="13.09" fill="#2ba3bf"/></svg>
<span class="t" style="left:27.80px;top:253.46px;font-size:5.8px;line-height:6.96px;color:#c0bebc;">Last Year Sales and This Year Sales by FiscalMonth</span>
<span class="t" style="left:34.60px;top:267.19px;font-size:5px;line-height:6.00px;color:#605e5c;transform-origin:0 50%;transform:scaleX(0.978);">Last Year Sales</span>
<span class="t" style="left:78.00px;top:267.19px;font-size:5px;line-height:6.00px;color:#605e5c;transform-origin:0 50%;transform:scaleX(0.979);">This Year Sales</span>
<span class="t" style="left:27.90px;top:278.69px;font-size:5.5px;line-height:6.60px;color:#777573;transform-origin:100% 50%;transform:scaleX(0.930);">$4M</span>
<span class="t" style="left:27.90px;top:318.29px;font-size:5.5px;line-height:6.60px;color:#777573;transform-origin:100% 50%;transform:scaleX(0.930);">$3M</span>
<span class="t" style="left:27.90px;top:357.69px;font-size:5.5px;line-height:6.60px;color:#777573;transform-origin:100% 50%;transform:scaleX(0.930);">$2M</span>
<svg class="b" style="left:0.00px;top:0.00px;" width="768" height="468" viewBox="0 0 768 468"><circle cx="30.8" cy="270.2" r="2.7" fill="#2ba3bf"/><circle cx="74.3" cy="270.2" r="2.7" fill="#d7202d"/><path d="M44 281.4 H229" stroke="#eceae8" stroke-width="0.9"/><path d="M44 321.0 H229" stroke="#eceae8" stroke-width="0.9"/><path d="M44 360.4 H229" stroke="#eceae8" stroke-width="0.9"/><polygon points="53.6,355.0 77.1,337.5 100.6,329.2 124.1,305.8 147.6,336.0 171.0,323.9 194.5,311.7 218.0,302.0 218.0,380.4 53.6,380.4" fill="#2ba3bf" fill-opacity="0.42"/><polygon points="53.6,372.6 77.1,335.6 100.6,291.2 124.1,334.0 147.6,330.7 171.0,317.0 194.5,347.3 218.0,313.6 218.0,380.4 53.6,380.4" fill="#c8303b" fill-opacity="0.45"/><polyline points="53.6,355.0 77.1,337.5 100.6,329.2 124.1,305.8 147.6,336.0 171.0,323.9 194.5,311.7 218.0,302.0" fill="none" stroke="#2ba3bf" stroke-width="1.1" stroke-opacity="0.85"/><polyline points="53.6,372.6 77.1,335.6 100.6,291.2 124.1,334.0 147.6,330.7 171.0,317.0 194.5,347.3 218.0,313.6" fill="none" stroke="#d7202d" stroke-width="1.1"/></svg>
<span class="t" style="left:49.39px;top:382.76px;font-size:5.6px;line-height:6.72px;color:#777573;transform-origin:50% 50%;transform:scaleX(0.930);">Jan</span>
<span class="t" style="left:72.57px;top:382.76px;font-size:5.6px;line-height:6.72px;color:#777573;transform-origin:50% 50%;transform:scaleX(0.930);">Feb</span>
<span class="t" style="left:96.06px;top:382.76px;font-size:5.6px;line-height:6.72px;color:#777573;transform-origin:50% 50%;transform:scaleX(0.930);">Mar</span>
<span class="t" style="left:120.01px;top:382.76px;font-size:5.6px;line-height:6.72px;color:#777573;transform-origin:50% 50%;transform:scaleX(0.930);">Apr</span>
<span class="t" style="left:142.57px;top:382.76px;font-size:5.6px;line-height:6.72px;color:#777573;transform-origin:50% 50%;transform:scaleX(0.930);">May</span>
<span class="t" style="left:166.84px;top:382.76px;font-size:5.6px;line-height:6.72px;color:#777573;transform-origin:50% 50%;transform:scaleX(0.930);">Jun</span>
<span class="t" style="left:191.26px;top:382.76px;font-size:5.6px;line-height:6.72px;color:#777573;transform-origin:50% 50%;transform:scaleX(0.930);">Jul</span>
<span class="t" style="left:213.35px;top:382.76px;font-size:5.6px;line-height:6.72px;color:#777573;transform-origin:50% 50%;transform:scaleX(0.930);">Aug</span>
<span class="t" style="left:238.00px;top:253.46px;font-size:5.8px;line-height:6.96px;color:#c0bebc;transform-origin:0 50%;transform:scaleX(1.020);">Total Sales Variance %, Avg $/Unit TY and This Year Sales by Category and Category</span>
<span class="t" style="left:238.00px;top:267.19px;font-size:5.3px;line-height:6.36px;color:#323130;transform-origin:0 50%;transform:scaleX(1.042);">Category</span>
<span class="t" style="left:270.20px;top:266.96px;font-size:5.2px;line-height:6.24px;color:#605e5c;transform-origin:0 50%;transform:scaleX(1.028);">010-Womens</span>
<span class="t" style="left:311.10px;top:266.96px;font-size:5.2px;line-height:6.24px;color:#605e5c;transform-origin:0 50%;transform:scaleX(1.055);">020-Mens</span>
<span class="t" style="left:342.80px;top:266.96px;font-size:5.2px;line-height:6.24px;color:#605e5c;transform-origin:0 50%;transform:scaleX(1.043);">030-Kids</span>
<span class="t" style="left:373.00px;top:266.96px;font-size:5.2px;line-height:6.24px;color:#605e5c;transform-origin:0 50%;transform:scaleX(1.042);">040-Juniors</span>
<span class="t" style="left:409.00px;top:266.96px;font-size:5.2px;line-height:6.24px;color:#605e5c;transform-origin:0 50%;transform:scaleX(0.930);">050-Shoes</span>
<span class="t" style="left:248.02px;top:304.89px;font-size:5.5px;line-height:6.60px;color:#777573;transform-origin:100% 50%;transform:scaleX(0.930);">$10</span>
<span class="t" style="left:251.08px;top:338.59px;font-size:5.5px;line-height:6.60px;color:#777573;transform-origin:100% 50%;transform:scaleX(0.930);">$5</span>
<span class="t" style="left:251.08px;top:371.69px;font-size:5.5px;line-height:6.60px;color:#777573;transform-origin:100% 50%;transform:scaleX(0.930);">$0</span>
<span class="t" style="left:256.48px;top:377.69px;font-size:5.5px;line-height:6.60px;color:#777573;transform-origin:50% 50%;transform:scaleX(0.930);">-40%</span>
<span class="t" style="left:340.28px;top:377.69px;font-size:5.5px;line-height:6.60px;color:#777573;transform-origin:50% 50%;transform:scaleX(0.930);">-20%</span>
<span class="t" style="left:427.03px;top:377.69px;font-size:5.5px;line-height:6.60px;color:#777573;transform-origin:50% 50%;transform:scaleX(0.930);">0%</span>
<svg class="b" style="left:0.00px;top:0.00px;" width="768" height="468" viewBox="0 0 768 468"><circle cx="266.8" cy="270.2" r="2.7" fill="#2ba3bf"/><circle cx="307.7" cy="270.2" r="2.7" fill="#e01e26"/><circle cx="339.4" cy="270.2" r="2.7" fill="#f2711f"/><circle cx="369.6" cy="270.2" r="2.7" fill="#3a5ea8"/><circle cx="405.7" cy="270.2" r="2.7" fill="#494a85"/><path d="M473 268.2 L475.4 270.2 L473 272.2 Z" fill="#252423"/><path d="M262 307.7 H474" stroke="#eceae8" stroke-width="0.9"/><path d="M262 341.4 H474" stroke="#eceae8" stroke-width="0.9"/><path d="M262 374.5 H474" stroke="#eceae8" stroke-width="0.9"/><path d="M262.9 281 V375" stroke="#eceae8" stroke-width="0.9"/><path d="M346.7 281 V375" stroke="#eceae8" stroke-width="0.9"/><path d="M431.0 281 V375" stroke="#eceae8" stroke-width="0.9"/></svg>
<span class="t" style="left:340.96px;top:384.96px;font-size:5.2px;line-height:6.24px;color:#777573;">Total Sales Variance %</span>
<span class="t" style="left:225.04px;top:325.00px;font-size:5.4px;line-height:6.4px;color:#777573;transform-origin:50% 50%;transform:rotate(-90deg);">Avg $/Unit TY</span>
<span class="t" style="left:410.44px;top:291.46px;font-size:5.4px;line-height:6.48px;color:#605e5c;transform-origin:50% 50%;transform:scaleX(1.064);">050-Shoes</span>
<span class="t" style="left:274.19px;top:332.86px;font-size:5.4px;line-height:6.48px;color:#605e5c;transform-origin:50% 50%;transform:scaleX(1.031);">010-Womens</span>
<span class="t" style="left:392.79px;top:312.36px;font-size:5.4px;line-height:6.48px;color:#605e5c;transform-origin:50% 50%;transform:scaleX(1.053);">040-Juniors</span>
<span class="t" style="left:417.14px;top:330.46px;font-size:5.4px;line-height:6.48px;color:#605e5c;transform-origin:50% 50%;transform:scaleX(1.037);">080-Accessories</span>
<span class="t" style="left:417.79px;top:337.26px;font-size:5.4px;line-height:6.48px;color:#605e5c;transform-origin:50% 50%;transform:scaleX(0.941);">020-Mens</span>
<span class="t" style="left:370.19px;top:333.36px;font-size:5.4px;line-height:6.48px;color:#605e5c;transform-origin:50% 50%;transform:scaleX(1.066);">060-Intimate</span>
<span class="t" style="left:416.94px;top:347.46px;font-size:5.4px;line-height:6.48px;color:#605e5c;transform-origin:50% 50%;transform:scaleX(1.051);">030-Kids</span>
<span class="t" style="left:438.59px;top:356.76px;font-size:5.4px;line-height:6.48px;color:#605e5c;transform-origin:50% 50%;transform:scaleX(1.063);">090-Home</span>
<span class="t" style="left:351.84px;top:354.26px;font-size:5.4px;line-height:6.48px;color:#605e5c;transform-origin:50% 50%;transform:scaleX(1.055);">070-Hosiery</span>
<span class="t" style="left:400.29px;top:361.16px;font-size:5.4px;line-height:6.48px;color:#605e5c;transform-origin:50% 50%;transform:scaleX(1.023);">100-Groceries</span>
<svg class="b" style="left:0.00px;top:0.00px;" width="768" height="468" viewBox="0 0 768 468"><clipPath id="scp"><rect x="258" y="280.2" width="220" height="98"/></clipPath><g clip-path="url(#scp)"><circle cx="422.7" cy="281.6" r="9.0" fill="#494a85" fill-opacity="0.9"/><circle cx="290.2" cy="325.8" r="6.8" fill="#2ba3bf" fill-opacity="0.9"/><circle cx="407.0" cy="328.2" r="8.2" fill="#3f68ad" fill-opacity="0.9"/><circle cx="427.6" cy="339.9" r="7.0" fill="#f2711f" fill-opacity="0.9"/><circle cx="430.8" cy="327.2" r="10.0" fill="#e01e26" fill-opacity="0.9"/><circle cx="385.2" cy="345.8" r="4.9" fill="#8c3a46" fill-opacity="0.9"/><circle cx="466.0" cy="342.3" r="5.8" fill="#e8742c" fill-opacity="0.9"/><circle cx="451.5" cy="347.9" r="8.2" fill="#f2c80f" fill-opacity="0.9"/><circle cx="366.2" cy="350.1" r="3.9" fill="#3a62c8" fill-opacity="0.9"/><circle cx="440.8" cy="364.8" r="4.9" fill="#4b46b0" fill-opacity="0.9"/></g></svg>
<span class="t" style="left:444.87px;top:426.69px;font-size:5.3px;line-height:6.36px;color:#8a8886;transform-origin:50% 50%;transform:scaleX(0.980);">obviEnce llc ©</span>
<svg class="b" style="left:487.00px;top:69.50px;" width="10" height="9" viewBox="0 0 10 9"><path d="M0.8 0.8 H8.6 L5.6 4.4 V7.8 L3.8 6.8 V4.4 Z" fill="none" stroke="#252423" stroke-width="0.9" stroke-linejoin="round"/></svg>
<span class="t" style="left:500.00px;top:69.38px;font-size:8px;line-height:9.60px;color:#252423;font-weight:bold;transform-origin:0 50%;transform:scaleX(0.916);">Filters</span>
<svg class="b" style="left:557.00px;top:70.00px;" width="7" height="5" viewBox="0 0 7 5"><path d="M0.5 2.8 C1.8 0.3 5.2 0.3 6.5 2.8" fill="none" stroke="#484644" stroke-width="0.75"/><circle cx="3.5" cy="2.8" r="1.1" fill="#484644"/></svg>
<svg class="b" style="left:571.80px;top:70.00px;" width="7" height="7" viewBox="0 0 7 7"><path d="M0.6 0.6 L3.3 3.4 L0.6 6.2 M3.4 0.6 L6.1 3.4 L3.4 6.2" fill="none" stroke="#484644" stroke-width="0.85"/></svg>
<div class="b" style="left:485.40px;top:87.50px;width:92.40px;height:14.60px;background:#fff;border:0.8px solid #e1dfdd;border-radius:1.2px;"></div>
<svg class="b" style="left:491.00px;top:90.60px;" width="8" height="8" viewBox="0 0 8 8"><circle cx="4.9" cy="3" r="2.4" fill="none" stroke="#605e5c" stroke-width="0.75"/><path d="M3.2 4.8 L0.6 7.4" stroke="#605e5c" stroke-width="0.8"/></svg>
<span class="t" style="left:503.70px;top:90.88px;font-size:6.8px;line-height:8.16px;color:#605e5c;transform-origin:0 50%;transform:scaleX(0.928);">Search</span>
<div class="b" style="left:482.50px;top:104.30px;width:100.50px;height:0.80px;background:#e6e4e2;"></div>
<span class="t" style="left:485.70px;top:113.88px;font-size:6.6px;line-height:7.92px;color:#484644;transform-origin:0 50%;transform:scaleX(0.915);">Filters on this page</span>
<svg class="b" style="left:571.00px;top:117.40px;" width="7" height="2" viewBox="0 0 7 2"><circle cx="0.8" cy="1" r="0.55" fill="#8a8886"/><circle cx="3.2" cy="1" r="0.55" fill="#8a8886"/><circle cx="5.6" cy="1" r="0.55" fill="#8a8886"/></svg>
<div class="b" style="left:485.00px;top:126.00px;width:95.00px;height:23.20px;background:#fff;border:1px solid #e8e6e4;border-radius:1.2px;"></div>
<span class="t" style="left:489.80px;top:129.38px;font-size:6.7px;line-height:8.04px;color:#484644;transform-origin:0 50%;transform:scaleX(0.897);">Category</span>
<span class="t" style="left:489.80px;top:137.78px;font-size:6.6px;line-height:7.92px;color:#605e5c;transform-origin:0 50%;transform:scaleX(0.889);">is (All)</span>
<div class="b" style="left:485.00px;top:152.00px;width:95.00px;height:23.20px;background:#fff;border:1px solid #e8e6e4;border-radius:1.2px;"></div>
<span class="t" style="left:489.80px;top:155.38px;font-size:6.7px;line-height:8.04px;color:#484644;transform-origin:0 50%;transform:scaleX(0.874);">Chain</span>
<span class="t" style="left:489.80px;top:163.78px;font-size:6.6px;line-height:7.92px;color:#605e5c;transform-origin:0 50%;transform:scaleX(0.889);">is (All)</span>
<div class="b" style="left:485.00px;top:178.00px;width:95.00px;height:23.20px;background:#fff;border:1px solid #e8e6e4;border-radius:1.2px;"></div>
<span class="t" style="left:489.80px;top:181.38px;font-size:6.7px;line-height:8.04px;color:#484644;transform-origin:0 50%;transform:scaleX(0.928);">District</span>
<span class="t" style="left:489.80px;top:189.78px;font-size:6.6px;line-height:7.92px;color:#605e5c;transform-origin:0 50%;transform:scaleX(0.889);">is (All)</span>
<div class="b" style="left:485.00px;top:204.00px;width:95.00px;height:23.20px;background:#fff;border:1px solid #e8e6e4;border-radius:1.2px;"></div>
<span class="t" style="left:489.80px;top:207.38px;font-size:6.7px;line-height:8.04px;color:#484644;transform-origin:0 50%;transform:scaleX(0.902);">DM</span>
<span class="t" style="left:489.80px;top:215.78px;font-size:6.6px;line-height:7.92px;color:#605e5c;transform-origin:0 50%;transform:scaleX(0.889);">is (All)</span>
<div class="b" style="left:485.00px;top:230.50px;width:95.00px;height:23.20px;background:#fff;border:1px solid #e8e6e4;border-radius:1.2px;"></div>
<span class="t" style="left:489.80px;top:233.88px;font-size:6.7px;line-height:8.04px;color:#484644;transform-origin:0 50%;transform:scaleX(0.892);">FiscalMonth</span>
<span class="t" style="left:489.80px;top:242.28px;font-size:6.6px;line-height:7.92px;color:#605e5c;transform-origin:0 50%;transform:scaleX(0.889);">is (All)</span>
<div class="b" style="left:485.00px;top:257.00px;width:95.00px;height:23.20px;background:#fff;border:1px solid #e8e6e4;border-radius:1.2px;"></div>
<span class="t" style="left:489.80px;top:260.38px;font-size:6.7px;line-height:8.04px;color:#484644;transform-origin:0 50%;transform:scaleX(0.912);">Name</span>
<span class="t" style="left:489.80px;top:268.77px;font-size:6.6px;line-height:7.92px;color:#605e5c;transform-origin:0 50%;transform:scaleX(0.889);">is (All)</span>
<div class="b" style="left:485.00px;top:283.00px;width:95.00px;height:23.50px;background:#fff;border:1px solid #e8e6e4;border-radius:1.2px;"></div>
<span class="t" style="left:503.69px;top:291.57px;font-size:6.5px;line-height:7.80px;color:#484644;transform-origin:50% 50%;transform:scaleX(0.943);">Add data fields here</span>
<span class="t" style="left:485.70px;top:320.57px;font-size:6.6px;line-height:7.92px;color:#484644;transform-origin:0 50%;transform:scaleX(0.903);">Filters on all pages</span>
<svg class="b" style="left:571.00px;top:324.20px;" width="7" height="2" viewBox="0 0 7 2"><circle cx="0.8" cy="1" r="0.55" fill="#8a8886"/><circle cx="3.2" cy="1" r="0.55" fill="#8a8886"/><circle cx="5.6" cy="1" r="0.55" fill="#8a8886"/></svg>
<div class="b" style="left:485.00px;top:333.00px;width:95.00px;height:23.00px;background:#fff;border:1px solid #e8e6e4;border-radius:1.2px;"></div>
<span class="t" style="left:503.69px;top:340.98px;font-size:6.5px;line-height:7.80px;color:#484644;transform-origin:50% 50%;transform:scaleX(0.943);">Add data fields here</span>
<span class="t" style="left:588.00px;top:69.38px;font-size:8px;line-height:9.60px;color:#252423;font-weight:bold;transform-origin:0 50%;transform:scaleX(0.945);">Visualizations</span>
<svg class="b" style="left:664.80px;top:70.20px;" width="7" height="7" viewBox="0 0 7 7"><path d="M0.6 0.6 L3.3 3.4 L0.6 6.2 M3.4 0.6 L6.1 3.4 L3.4 6.2" fill="none" stroke="#484644" stroke-width="0.85"/></svg>
<span class="t" style="left:588.00px;top:83.82px;font-size:6px;line-height:7.20px;color:#252423;font-weight:bold;transform-origin:0 50%;transform:scaleX(0.950);">Build visual</span>
<div class="b" style="left:588.00px;top:93.00px;width:15.80px;height:15.80px;background:#c8c6c4;"></div>
<svg class="b" style="left:588.00px;top:93.00px;" width="16" height="16" viewBox="0 0 16 16"><path d="M2 2.3 H13.6" stroke="#3b3a39" stroke-width="0.8"/><rect x="2.2" y="4.4" width="11.6" height="4.4" fill="#117865"/><rect x="2.2" y="9.9" width="11.6" height="4.3" fill="#117865"/><path d="M2.2 5.9 H13.8 M2.2 7.3 H13.8 M2.2 11.4 H13.8 M2.2 12.8 H13.8" stroke="#5fb3a0" stroke-width="0.35" stroke-dasharray="0.8 0.5"/></svg>
<svg class="b" style="left:622.50px;top:94.00px;" width="14" height="14" viewBox="0 0 14 14"><path d="M1.6 1 H6.6 L9.4 3.8 V12.6 H1.6 Z" fill="none" stroke="#3b3a39" stroke-width="0.85"/><path d="M4.6 10.6 L5.4 8.2 L10.8 3.2 L12.6 5 L7.2 10 Z" fill="#f3f2f1" stroke="#3b3a39" stroke-width="0.8"/></svg>
<svg class="b" style="left:584.00px;top:110.00px;" width="92" height="7" viewBox="0 0 92 7"><path d="M0 5.3 H9 L11.8 2.2 L14.6 5.3 H92" fill="none" stroke="#d2d0ce" stroke-width="0.8"/></svg>
<svg class="b" style="left:588.20px;top:121.50px;" width="11" height="11" viewBox="0 0 11 11"><path d="M0.9 0.8 V10 H10.4" fill="none" stroke="#7f7d7b" stroke-width="0.75"/><rect x="1.2" y="1.4" width="2.4" height="2" fill="#e2e0de" stroke="#7f7d7b" stroke-width="0.55"/><rect x="3.6" y="1.2" width="4" height="2.4" fill="#3b94dc"/><rect x="1.2" y="4.3" width="7.6" height="2" fill="#e2e0de" stroke="#7f7d7b" stroke-width="0.55"/><rect x="1.2" y="7.1" width="8.6" height="2" fill="#e2e0de" stroke="#7f7d7b" stroke-width="0.55"/></svg>
<svg class="b" style="left:602.40px;top:121.50px;" width="11" height="11" viewBox="0 0 11 11"><path d="M0.6 10 H10.4" fill="none" stroke="#7f7d7b" stroke-width="0.75"/><rect x="1.2" y="2.6" width="2" height="7.4" fill="#e2e0de" stroke="#7f7d7b" stroke-width="0.55"/><rect x="4.3" y="1.4" width="2.2" height="8.6" fill="#e2e0de" stroke="#7f7d7b" stroke-width="0.55"/><rect x="4.3" y="3" width="2.2" height="3.8" fill="#3b94dc"/><rect x="7.6" y="2.6" width="2" height="7.4" fill="#e2e0de" stroke="#7f7d7b" stroke-width="0.55"/></svg>
<svg class="b" style="left:616.80px;top:121.50px;" width="11" height="11" viewBox="0 0 11 11"><path d="M0.9 0.8 V10 H10.4" fill="none" stroke="#7f7d7b" stroke-width="0.75"/><rect x="1.2" y="1" width="8.6" height="2.2" fill="#3b94dc"/><rect x="1.2" y="3.8" width="5.6" height="1.9" fill="#e2e0de" stroke="#7f7d7b" stroke-width="0.55"/><rect x="1.2" y="6.2" width="7.2" height="1.9" fill="#e2e0de" stroke="#7f7d7b" stroke-width="0.55"/><rect x="1.2" y="8.1" width="4.6" height="1.4" fill="#e2e0de" stroke="#7f7d7b" stroke-width="0.55"/></svg>
<svg class="b" style="left:631.00px;top:121.50px;" width="11" height="11" viewBox="0 0 11 11"><path d="M0.9 0.8 V10 H10.4" fill="none" stroke="#7f7d7b" stroke-width="0.75"/><rect x="1.3" y="1" width="2.6" height="9" fill="#3b94dc"/><rect x="4.3" y="4.4" width="2" height="5.6" fill="#e2e0de" stroke="#7f7d7b" stroke-width="0.55"/><rect x="6.3" y="3" width="2" height="7" fill="#e2e0de" stroke="#7f7d7b" stroke-width="0.55"/><rect x="8.3" y="5" width="1.8" height="5" fill="#e2e0de" stroke="#7f7d7b" stroke-width="0.55"/></svg>
<svg class="b" style="left:645.40px;top:121.50px;" width="11" height="11" viewBox="0 0 11 11"><path d="M0.9 0.8 V10 H10.4" fill="none" stroke="#7f7d7b" stroke-width="0.75"/><rect x="1.2" y="1.6" width="8.8" height="2.2" fill="#e2e0de" stroke="#7f7d7b" stroke-width="0.55"/><rect x="3.2" y="1.6" width="5.6" height="2.2" fill="#3b94dc"/><rect x="1.2" y="4.5" width="8.8" height="2" fill="#e2e0de" stroke="#7f7d7b" stroke-width="0.55"/><rect x="1.2" y="7.2" width="8.8" height="2" fill="#e2e0de" stroke="#7f7d7b" stroke-width="0.55"/></svg>
<svg class="b" style="left:659.60px;top:121.50px;" width="11" height="11" viewBox="0 0 11 11"><path d="M0.6 10 H10.4" fill="none" stroke="#7f7d7b" stroke-width="0.75"/><rect x="1.6" y="1.4" width="2.4" height="8.6" fill="#e2e0de" stroke="#7f7d7b" stroke-width="0.55"/><rect x="1.9" y="1.8" width="1.8" height="5.2" fill="#3b94dc"/><rect x="5" y="1.4" width="2" height="8.6" fill="#e2e0de" stroke="#7f7d7b" stroke-width="0.55"/><rect x="7.8" y="1.4" width="2" height="8.6" fill="#e2e0de" stroke="#7f7d7b" stroke-width="0.55"/></svg>
<svg class="b" style="left:588.20px;top:135.70px;" width="11" height="11" viewBox="0 0 11 11"><path d="M0.9 0.8 V10 H10.4" fill="none" stroke="#7f7d7b" stroke-width="0.75"/><path d="M1.2 8 L3.4 5 L5.2 6.4 L7.2 3.6 L9 4.8 L10.2 3.6" fill="none" stroke="#3b94dc" stroke-width="0.75"/><path d="M1.2 6 L3.2 3.6 L5 5 L7 2.8 L8.6 4.2 L10.2 2.6" fill="none" stroke="#484644" stroke-width="0.7"/></svg>
<svg class="b" style="left:602.40px;top:135.70px;" width="11" height="11" viewBox="0 0 11 11"><path d="M0.8 10 L3.6 1.6 L5.6 5.2 L7.6 1.8 L10.4 8 V10 Z" fill="#f6f5f4" stroke="#7f7d7b" stroke-width="0.55"/><path d="M0.8 10 L2.4 6 L4.6 8 L7.6 4.6 L10.4 8.4 V10 Z" fill="#3b94dc"/><path d="M0.6 10 H10.4" fill="none" stroke="#7f7d7b" stroke-width="0.75"/></svg>
<svg class="b" style="left:616.80px;top:135.70px;" width="11" height="11" viewBox="0 0 11 11"><path d="M0.9 0.8 V10 H10.4" fill="none" stroke="#7f7d7b" stroke-width="0.75"/><path d="M1.3 3 L3.8 5.6 L6 3 L8.2 5.2 L10.2 3.2 V6.6 L8.2 8.6 L6 6.4 L3.8 9 L1.3 6.4 Z" fill="#3b94dc"/><path d="M1.3 1.6 L3.8 4.2 L6 1.6 L8.2 3.8 L10.2 1.8" fill="none" stroke="#7f7d7b" stroke-width="0.5"/></svg>
<svg class="b" style="left:631.00px;top:135.70px;" width="11" height="11" viewBox="0 0 11 11"><path d="M0.9 0.8 V10 H10.4" fill="none" stroke="#7f7d7b" stroke-width="0.75"/><rect x="1.6" y="2.4" width="1.4" height="7.6" fill="#e2e0de" stroke="#7f7d7b" stroke-width="0.55"/><rect x="3.6" y="3" width="2.4" height="7" fill="#e2e0de" stroke="#7f7d7b" stroke-width="0.55"/><rect x="3.8" y="3.2" width="2" height="4" fill="#3b94dc"/><rect x="6.8" y="3.6" width="1.5" height="6.4" fill="#e2e0de" stroke="#7f7d7b" stroke-width="0.55"/><rect x="8.7" y="2.8" width="1.4" height="7.2" fill="#e2e0de" stroke="#7f7d7b" stroke-width="0.55"/><path d="M1.4 2 L4 0.8 L7 2.2 L10.2 1" fill="none" stroke="#484644" stroke-width="0.5"/></svg>
<svg class="b" style="left:645.40px;top:135.70px;" width="11" height="11" viewBox="0 0 11 11"><path d="M0.9 0.8 V10 H10.4" fill="none" stroke="#7f7d7b" stroke-width="0.75"/><rect x="1.4" y="4.4" width="1.3" height="5.6" fill="#e2e0de" stroke="#7f7d7b" stroke-width="0.55"/><rect x="2.9" y="4.6" width="2.4" height="5.4" fill="#3b94dc"/><rect x="5.9" y="2.4" width="1.6" height="7.6" fill="#e2e0de" stroke="#7f7d7b" stroke-width="0.55"/><rect x="7.9" y="4.4" width="1.5" height="5.6" fill="#e2e0de" stroke="#7f7d7b" stroke-width="0.55"/><path d="M1.4 4.4 L4.2 2.6 L6.6 1 L9.8 4" fill="none" stroke="#484644" stroke-width="0.5"/></svg>
<svg class="b" style="left:659.60px;top:135.70px;" width="11" height="11" viewBox="0 0 11 11"><path d="M0.9 0.8 V10 H10.4" fill="none" stroke="#7f7d7b" stroke-width="0.75"/><path d="M1.3 2.4 L3.4 4.6 L5.6 2.2 L7.8 4.6 L10.2 2.4 V6 L7.8 8 L5.6 5.6 L3.4 8 L1.3 5.8 Z" fill="#3b94dc"/><path d="M1.3 5.8 L3.4 8 L5.6 5.6 L7.8 8 L10.2 6 V7.6 L7.8 9.4 L5.6 7.4 L3.4 9.4 L1.3 7.6 Z" fill="#e8882c"/><path d="M1.3 1.4 H2.6 V9.6 H1.3 Z M8.8 1.6 H10.2 V9.6 H8.8 Z" fill="#7f7d7b" fill-opacity="0.55"/></svg>
<svg class="b" style="left:588.20px;top:149.90px;" width="11" height="11" viewBox="0 0 11 11"><path d="M0.9 0.8 V10 H10.4" fill="none" stroke="#7f7d7b" stroke-width="0.75"/><rect x="1.5" y="1.4" width="1.8" height="8.6" fill="#e2e0de" stroke="#7f7d7b" stroke-width="0.55"/><rect x="3.9" y="4.6" width="2" height="5.4" fill="#f6f5f4" stroke="#7f7d7b" stroke-width="0.55"/><rect x="6.2" y="3" width="1.9" height="4.4" fill="#f6f5f4" stroke="#7f7d7b" stroke-width="0.55"/><rect x="8.3" y="1.6" width="1.8" height="8.4" fill="#e2e0de" stroke="#7f7d7b" stroke-width="0.55"/></svg>
<svg class="b" style="left:602.40px;top:149.90px;" width="11" height="11" viewBox="0 0 11 11"><rect x="0.6" y="1.2" width="9.8" height="2.2" fill="#3b94dc"/><rect x="1.6" y="3.8" width="7.8" height="2" fill="#3b94dc"/><rect x="2.8" y="6.2" width="5.4" height="1.9" fill="#3b94dc"/><rect x="3.8" y="8.5" width="3.4" height="1.5" fill="#3b94dc"/></svg>
<svg class="b" style="left:616.80px;top:149.90px;" width="11" height="11" viewBox="0 0 11 11"><path d="M0.9 0.8 V10 H10.4" fill="none" stroke="#7f7d7b" stroke-width="0.75"/><circle cx="2.8" cy="8" r="0.7" fill="#484644"/><circle cx="8.6" cy="1.8" r="0.7" fill="#484644"/><circle cx="3" cy="3.4" r="0.65" fill="#3b94dc"/><circle cx="5.4" cy="5.2" r="0.65" fill="#3b94dc"/><circle cx="7" cy="3.4" r="0.6" fill="#3b94dc"/><circle cx="8.4" cy="7.2" r="0.7" fill="#3b94dc"/></svg>
<svg class="b" style="left:631.00px;top:149.90px;" width="11" height="11" viewBox="0 0 11 11"><circle cx="5.5" cy="5.5" r="4.5" fill="#fbfbfa" stroke="#484644" stroke-width="0.65"/><path d="M5.5 5.5 L5.5 1 A4.5 4.5 0 0 1 8.4 9 Z" fill="#3b94dc"/></svg>
<svg class="b" style="left:645.40px;top:149.90px;" width="11" height="11" viewBox="0 0 11 11"><circle cx="5.5" cy="5.5" r="3.5" fill="none" stroke="#3b94dc" stroke-width="2.2"/><path d="M2.3 4.2 A3.5 3.5 0 0 1 5.2 2" fill="none" stroke="#f0efee" stroke-width="1.5"/><path d="M2.3 4.2 A3.5 3.5 0 0 1 5.2 2" fill="none" stroke="#7f7d7b" stroke-width="2.3" stroke-opacity="0.35"/></svg>
<svg class="b" style="left:659.60px;top:149.90px;" width="11" height="11" viewBox="0 0 11 11"><rect x="0.8" y="0.9" width="9.6" height="9.4" fill="#fbfbfa" stroke="#484644" stroke-width="0.6"/><rect x="1.1" y="1.2" width="4" height="8.8" fill="#3b94dc"/><rect x="5.8" y="1.2" width="4.3" height="3" fill="#3b94dc"/><path d="M5.5 0.9 V10.3 M5.5 4.6 H10.4 M5.5 7.4 H10.4 M8 4.6 V10.3 M0.8 5.6 H5.5" stroke="#484644" stroke-width="0.5"/></svg>
<svg class="b" style="left:588.20px;top:164.30px;" width="11" height="11" viewBox="0 0 11 11"><circle cx="5.3" cy="4.6" r="3.9" fill="#8e8c8a" stroke="#484644" stroke-width="0.8"/><path d="M4.2 2.2 C5.8 2 6.4 3.2 5.8 4.2 C5.2 5 6.6 5.6 6 6.8 C5.4 7.6 4.4 6.6 4.6 5.4 C4.8 4.4 3.6 3.6 4.2 2.2 Z" fill="#3fae5a"/><path d="M2.6 10 H8.2 M5.4 8.6 V10" stroke="#484644" stroke-width="0.9"/></svg>
<svg class="b" style="left:602.40px;top:164.30px;" width="11" height="11" viewBox="0 0 11 11"><path d="M0.8 1 L3.6 1.8 L5.6 0.8 L7.6 1.6 L10.2 0.8 V6.4 C10.2 8.4 7.4 9.6 5.6 10.4 C3.6 9.6 0.8 8.4 0.8 6.4 Z" fill="#e2e0de" stroke="#7f7d7b" stroke-width="0.5"/><path d="M0.8 1 L3.6 1.8 L4.2 4.4 L0.8 4.8 Z M5.2 5 L10.2 4 V6.4 C10.2 8.2 7.6 9.6 5.6 10.4 Z" fill="#3b94dc"/></svg>
<svg class="b" style="left:616.80px;top:164.30px;" width="11" height="11" viewBox="0 0 11 11"><path d="M1.2 8.2 A4.3 4.3 0 0 1 9.8 8.2" fill="none" stroke="#484644" stroke-width="1.5"/><path d="M5.9 3.9 A4.3 4.3 0 0 1 9.8 8.2" fill="none" stroke="#3b94dc" stroke-width="1.5"/><path d="M4.6 8.2 L7 5" stroke="#484644" stroke-width="0.7"/></svg>
<svg class="b" style="left:631.00px;top:164.30px;" width="11" height="11" viewBox="0 0 11 11"><rect x="0.7" y="2.2" width="9.6" height="6.8" fill="#f6f5f4" stroke="#7f7d7b" stroke-width="0.7"/><text x="5.5" y="7.1" font-size="3.9" text-anchor="middle" fill="#3b94dc" font-family="Liberation Sans" font-weight="bold">123</text></svg>
<svg class="b" style="left:645.40px;top:164.30px;" width="11" height="11" viewBox="0 0 11 11"><rect x="0.9" y="0.8" width="9.2" height="9.4" fill="#f6f5f4" stroke="#7f7d7b" stroke-width="0.8"/><path d="M3.2 3.2 H8.4 M3.2 7.4 H8" stroke="#3b94dc" stroke-width="0.9"/><path d="M3.2 5.3 H7" stroke="#484644" stroke-width="0.9"/></svg>
<svg class="b" style="left:659.60px;top:164.30px;" width="11" height="11" viewBox="0 0 11 11"><rect x="0.7" y="1.8" width="9.7" height="7.4" fill="#f6f5f4" stroke="#7f7d7b" stroke-width="0.7"/><path d="M2.2 5.4 L3.8 2.8 L5.4 5.4 Z" fill="#3fae5a"/><path d="M5.8 3 L7.4 5.6 L9 3 Z" fill="#d8343a"/><path d="M1.6 7.8 H9.4" stroke="#7f7d7b" stroke-width="0.5"/></svg>
<svg class="b" style="left:588.20px;top:178.50px;" width="11" height="11" viewBox="0 0 11 11"><rect x="0.8" y="0.9" width="9.5" height="9.2" fill="#f6f5f4" stroke="#484644" stroke-width="0.8"/><path d="M0.8 2.8 H10.3" stroke="#484644" stroke-width="0.7"/><path d="M2.4 4.4 V8.4" stroke="#7f7d7b" stroke-width="0.9"/><path d="M4.2 4.6 H9.6 L7.6 6.8 V9 L6.2 8.4 V6.8 Z" fill="#f6f5f4" stroke="#484644" stroke-width="0.65"/></svg>
<svg class="b" style="left:602.40px;top:178.50px;" width="11" height="11" viewBox="0 0 11 11"><rect x="0.8" y="1" width="9.5" height="9" fill="#f6f5f4" stroke="#7f7d7b" stroke-width="0.8"/><path d="M0.8 3.3 H10.3 M0.8 5.5 H10.3 M0.8 7.7 H10.3 M4 1 V10 M7.2 1 V10" stroke="#7f7d7b" stroke-width="0.6"/></svg>
<svg class="b" style="left:616.80px;top:178.50px;" width="11" height="11" viewBox="0 0 11 11"><rect x="0.8" y="1" width="9.5" height="9" fill="#f6f5f4" stroke="#7f7d7b" stroke-width="0.8"/><rect x="4" y="3.3" width="6.3" height="6.7" fill="#3b94dc"/><rect x="0.8" y="5.5" width="3.2" height="4.5" fill="#3b94dc"/><path d="M0.8 3.3 H10.3 M0.8 5.5 H10.3 M0.8 7.7 H10.3 M4 1 V10 M7.2 1 V10" stroke="#f0efee" stroke-width="0.55"/><path d="M0.8 3.3 H10.3 M4 1 V3.3 M7.2 1 V3.3" stroke="#7f7d7b" stroke-width="0.6"/></svg>
<svg class="b" style="left:631.00px;top:178.50px;" width="11" height="11" viewBox="0 0 11 11"><text x="5.5" y="8.9" font-size="8.6" text-anchor="middle" fill="#3b94dc" font-family="Liberation Sans" font-weight="bold" textLength="5.6" lengthAdjust="spacingAndGlyphs">R</text></svg>
<svg class="b" style="left:645.40px;top:178.50px;" width="11" height="11" viewBox="0 0 11 11"><text x="5.6" y="7.9" font-size="9" text-anchor="middle" fill="#3b94dc" font-family="Liberation Sans" font-weight="bold" textLength="10" lengthAdjust="spacingAndGlyphs">Py</text></svg>
<svg class="b" style="left:659.60px;top:178.50px;" width="11" height="11" viewBox="0 0 11 11"><path d="M1 1 V10 H10.4" fill="none" stroke="#7f7d7b" stroke-width="0.75"/><path d="M1 2.4 H7.4 M1 4.8 H6 M1 7.2 H4.6" stroke="#7f7d7b" stroke-width="0.75"/><circle cx="8.6" cy="2.2" r="1.25" fill="#3b94dc"/></svg>
<svg class="b" style="left:588.20px;top:192.70px;" width="11" height="11" viewBox="0 0 11 11"><rect x="0.3" y="4.3" width="3.4" height="2.6" fill="#3b94dc"/><rect x="6.6" y="0.9" width="3.6" height="2.5" fill="#3b94dc"/><rect x="6.6" y="4.2" width="3.6" height="2.5" fill="#3b94dc"/><rect x="6.6" y="7.5" width="3.6" height="2.5" fill="#3b94dc"/><path d="M3.7 5.5 H6.6 M5.2 2.1 V8.8 M5.2 2.1 H6.6 M5.2 8.8 H6.6" stroke="#3b94dc" stroke-width="0.6" fill="none"/></svg>
<svg class="b" style="left:602.40px;top:192.70px;" width="11" height="11" viewBox="0 0 11 11"><path d="M0.8 1.4 H10.2 V7.4 H4.8 L2.8 9.6 V7.4 H0.8 Z" fill="#fbfbfa" stroke="#3b94dc" stroke-width="0.9"/></svg>
<svg class="b" style="left:616.80px;top:192.70px;" width="11" height="11" viewBox="0 0 11 11"><path d="M2 0.8 H6.8 L9.2 3.2 V10.2 H2 Z" fill="#f6f5f4" stroke="#7f7d7b" stroke-width="0.7"/><path d="M6.8 0.8 V3.2 H9.2" fill="none" stroke="#7f7d7b" stroke-width="0.55"/><path d="M1.2 4.4 H5" stroke="#3b94dc" stroke-width="1"/><path d="M3.6 6.8 H7.6" stroke="#3b94dc" stroke-width="0.8"/></svg>
<svg class="b" style="left:631.00px;top:192.70px;" width="11" height="11" viewBox="0 0 11 11"><path d="M2.6 1.2 H8.4 V4.2 C8.4 7.6 2.6 7.6 2.6 4.2 Z" fill="#f6f5f4" stroke="#484644" stroke-width="0.9"/><path d="M2.6 1.9 H8.4" stroke="#3b94dc" stroke-width="1.2"/><path d="M2.6 2.4 H0.9 C0.9 4.6 1.8 5 3 5.2 M8.4 2.4 H10.1 C10.1 4.6 9.2 5 8 5.2" fill="none" stroke="#484644" stroke-width="0.7"/><path d="M5.5 6.8 V8.6" stroke="#484644" stroke-width="1.2"/><path d="M3.4 9.6 H7.6" stroke="#3b94dc" stroke-width="1.3"/></svg>
<svg class="b" style="left:645.40px;top:192.70px;" width="11" height="11" viewBox="0 0 11 11"><path d="M1.8 0.8 H6.6 L9.2 3.4 V10.2 H1.8 Z" fill="#e2e0de" stroke="#484644" stroke-width="0.8"/><path d="M6.6 0.8 V3.4 H9.2" fill="#f6f5f4" stroke="#484644" stroke-width="0.6"/><rect x="3" y="6.6" width="1.2" height="2.8" fill="#484644"/><rect x="4.8" y="5.2" width="1.2" height="4.2" fill="#484644"/><rect x="6.6" y="7" width="1.2" height="2.4" fill="#484644"/></svg>
<svg class="b" style="left:659.60px;top:192.70px;" width="11" height="11" viewBox="0 0 11 11"><rect x="1.4" y="1.4" width="8.4" height="8.6" fill="#f6f5f4" stroke="#3b94dc" stroke-width="0.9"/><path d="M1.6 9.6 L5 5.4 L6.6 6.6 L9.6 2" fill="none" stroke="#3b94dc" stroke-width="0.9"/><path d="M0.4 1.6 C0.4 -0.2 3.4 -0.2 3.4 1.6 C3.4 2.8 1.9 4.4 1.9 4.4 C1.9 4.4 0.4 2.8 0.4 1.6 Z" fill="#e8882c"/><circle cx="9.8" cy="6.4" r="0.9" fill="#e8742c"/><circle cx="8.8" cy="9.4" r="1.1" fill="#e8742c"/></svg>
<svg class="b" style="left:588.20px;top:207.10px;" width="11" height="11" viewBox="0 0 11 11"><path d="M5.5 0.7 L10.3 5.5 L5.5 10.3 L0.7 5.5 Z" fill="#fbf6fb" stroke="#a64db0" stroke-width="0.9"/><path d="M3.2 3.4 L5.5 5.5 L3.2 7.6 M7.8 3.4 L5.5 5.5 L7.8 7.6" fill="none" stroke="#a64db0" stroke-width="0.8"/></svg>
<svg class="b" style="left:602.40px;top:207.10px;" width="11" height="11" viewBox="0 0 11 11"><path d="M0.8 1.6 H6.2 L9.8 5.5 L6.2 9.4 H0.8 L4.2 5.5 Z" fill="#eef5fc" stroke="#3b94dc" stroke-width="0.9"/><path d="M3.4 7.6 L6.8 3.8 M5.4 8.4 L8.4 5" stroke="#3b94dc" stroke-width="0.7"/></svg>
<svg class="b" style="left:616.80px;top:207.10px;" width="11" height="11" viewBox="0 0 11 11"><circle cx="2.3" cy="4.8" r="0.6" fill="#8a8886"/><circle cx="5.5" cy="4.8" r="0.6" fill="#8a8886"/><circle cx="8.7" cy="4.8" r="0.6" fill="#8a8886"/></svg>
<span class="t" style="left:589.90px;top:228.47px;font-size:6.6px;line-height:7.92px;color:#323130;transform-origin:0 50%;transform:scaleX(0.884);">Values</span>
<div class="b" style="left:586.30px;top:239.60px;width:85.80px;height:13.40px;background:#fff;border:0.6px dashed #e6e4e2;"></div>
<span class="t" style="left:591.10px;top:242.47px;font-size:6.5px;line-height:7.80px;color:#484644;transform-origin:0 50%;transform:scaleX(0.948);">Add data fields here</span>
<span class="t" style="left:589.90px;top:259.18px;font-size:6.5px;line-height:7.80px;color:#252423;font-weight:bold;transform-origin:0 50%;transform:scaleX(0.918);">Drill through</span>
<span class="t" style="left:589.90px;top:272.07px;font-size:6.5px;line-height:7.80px;color:#484644;transform-origin:0 50%;transform:scaleX(0.941);">Cross-report</span>
<span class="t" style="left:589.90px;top:285.57px;font-size:6.5px;line-height:7.80px;color:#484644;transform-origin:0 50%;transform:scaleX(0.938);">Keep all filters</span>
<div class="b" style="left:656.40px;top:271.60px;width:16.30px;height:8.00px;background:#f8f7f6;border:0.7px solid #7a7876;border-radius:4px;"></div>
<div class="b" style="left:658.50px;top:273.50px;width:4.20px;height:4.20px;background:#3b3a39;border-radius:2.1px;"></div>
<span class="t" style="left:665.10px;top:274.30px;font-size:3.8px;line-height:4.56px;color:#323130;">Off</span>
<div class="b" style="left:656.40px;top:285.20px;width:16.30px;height:8.00px;background:#484644;border-radius:4px;"></div>
<div class="b" style="left:666.60px;top:287.10px;width:4.20px;height:4.20px;background:#fff;border-radius:2.1px;"></div>
<span class="t" style="left:658.67px;top:287.69px;font-size:3.8px;line-height:4.56px;color:#fff;">On</span>
<div class="b" style="left:586.30px;top:299.00px;width:85.80px;height:12.40px;background:#fff;border:0.6px dashed #e6e4e2;"></div>
<span class="t" style="left:590.40px;top:301.77px;font-size:6.5px;line-height:7.80px;color:#484644;transform-origin:0 50%;transform:scaleX(0.961);">Add drill-through fields here</span>
<span class="t" style="left:680.30px;top:69.38px;font-size:8px;line-height:9.60px;color:#252423;font-weight:bold;transform-origin:0 50%;transform:scaleX(0.930);">Fields</span>
<svg class="b" style="left:757.20px;top:70.20px;" width="7" height="7" viewBox="0 0 7 7"><path d="M0.6 0.6 L3.3 3.4 L0.6 6.2 M3.4 0.6 L6.1 3.4 L3.4 6.2" fill="none" stroke="#484644" stroke-width="0.85"/></svg>
<div class="b" style="left:678.20px;top:87.00px;width:87.80px;height:13.20px;background:#fff;border:0.8px solid #c8c6c4;border-radius:1px;"></div>
<svg class="b" style="left:682.00px;top:89.60px;" width="8" height="8" viewBox="0 0 8 8"><circle cx="4.9" cy="3" r="2.4" fill="none" stroke="#605e5c" stroke-width="0.75"/><path d="M3.2 4.8 L0.6 7.4" stroke="#605e5c" stroke-width="0.8"/></svg>
<span class="t" style="left:692.80px;top:90.17px;font-size:6.8px;line-height:8.16px;color:#605e5c;transform-origin:0 50%;transform:scaleX(0.951);">Search</span>
<svg class="b" style="left:680.50px;top:108.20px;" width="4" height="6" viewBox="0 0 4 6"><path d="M0.8 0.5 L3.2 3 L0.8 5.5" fill="none" stroke="#605e5c" stroke-width="0.7"/></svg>
<svg class="b" style="left:686.80px;top:107.00px;" width="8" height="8.2" viewBox="0 0 8 8.2"><path d="M1.6 0.5 H7 V6.4" fill="none" stroke="#6b6967" stroke-width="0.8"/><rect x="0.6" y="1.5" width="5.6" height="6.2" rx="0.5" fill="#8a8886" stroke="#605e5c" stroke-width="0.7"/><path d="M0.6 3.3 H6.2" stroke="#605e5c" stroke-width="0.7"/><rect x="2.6" y="4" width="2.9" height="1.3" fill="#f3f2f1"/><rect x="2.6" y="5.9" width="2.9" height="1.2" fill="#f3f2f1"/><rect x="1.2" y="4" width="0.9" height="1.3" fill="#f3f2f1"/><rect x="1.2" y="5.9" width="0.9" height="1.2" fill="#f3f2f1"/></svg>
<span class="t" style="left:697.00px;top:107.58px;font-size:6.8px;line-height:8.16px;color:#605e5c;transform-origin:0 50%;transform:scaleX(0.823);">Sales</span>
<svg class="b" style="left:680.50px;top:120.48px;" width="4" height="6" viewBox="0 0 4 6"><path d="M0.8 0.5 L3.2 3 L0.8 5.5" fill="none" stroke="#605e5c" stroke-width="0.7"/></svg>
<svg class="b" style="left:686.60px;top:120.08px;" width="8" height="7" viewBox="0 0 8 7"><rect x="0.5" y="0.5" width="6.6" height="5.8" fill="#fafafa" stroke="#55534f" stroke-width="0.85"/><path d="M0.5 1.5 H7.1" stroke="#55534f" stroke-width="0.9"/><path d="M0.5 3.3 H7.1 M0.5 4.8 H7.1 M2.7 0.5 V6.3 M4.9 0.5 V6.3" stroke="#55534f" stroke-width="0.6"/></svg>
<span class="t" style="left:697.00px;top:119.86px;font-size:6.8px;line-height:8.16px;color:#605e5c;transform-origin:0 50%;transform:scaleX(0.915);">District</span>
<svg class="b" style="left:680.50px;top:132.76px;" width="4" height="6" viewBox="0 0 4 6"><path d="M0.8 0.5 L3.2 3 L0.8 5.5" fill="none" stroke="#605e5c" stroke-width="0.7"/></svg>
<svg class="b" style="left:686.60px;top:132.36px;" width="8" height="7" viewBox="0 0 8 7"><rect x="0.5" y="0.5" width="6.6" height="5.8" fill="#fafafa" stroke="#55534f" stroke-width="0.85"/><path d="M0.5 1.5 H7.1" stroke="#55534f" stroke-width="0.9"/><path d="M0.5 3.3 H7.1 M0.5 4.8 H7.1 M2.7 0.5 V6.3 M4.9 0.5 V6.3" stroke="#55534f" stroke-width="0.6"/></svg>
<span class="t" style="left:697.00px;top:132.13px;font-size:6.8px;line-height:8.16px;color:#605e5c;transform-origin:0 50%;transform:scaleX(0.870);">Item</span>
<svg class="b" style="left:680.50px;top:145.04px;" width="4" height="6" viewBox="0 0 4 6"><path d="M0.8 0.5 L3.2 3 L0.8 5.5" fill="none" stroke="#605e5c" stroke-width="0.7"/></svg>
<svg class="b" style="left:686.60px;top:144.64px;" width="8" height="7" viewBox="0 0 8 7"><rect x="0.5" y="0.5" width="6.6" height="5.8" fill="#fafafa" stroke="#55534f" stroke-width="0.85"/><path d="M0.5 1.5 H7.1" stroke="#55534f" stroke-width="0.9"/><path d="M0.5 3.3 H7.1 M0.5 4.8 H7.1 M2.7 0.5 V6.3 M4.9 0.5 V6.3" stroke="#55534f" stroke-width="0.6"/></svg>
<span class="t" style="left:697.00px;top:144.41px;font-size:6.8px;line-height:8.16px;color:#605e5c;transform-origin:0 50%;transform:scaleX(0.861);">Store</span>
<svg class="b" style="left:680.50px;top:157.32px;" width="4" height="6" viewBox="0 0 4 6"><path d="M0.8 0.5 L3.2 3 L0.8 5.5" fill="none" stroke="#605e5c" stroke-width="0.7"/></svg>
<svg class="b" style="left:686.60px;top:156.92px;" width="8" height="7" viewBox="0 0 8 7"><rect x="0.5" y="0.5" width="6.6" height="5.8" fill="#fafafa" stroke="#55534f" stroke-width="0.85"/><path d="M0.5 1.5 H7.1" stroke="#55534f" stroke-width="0.9"/><path d="M0.5 3.3 H7.1 M0.5 4.8 H7.1 M2.7 0.5 V6.3 M4.9 0.5 V6.3" stroke="#55534f" stroke-width="0.6"/></svg>
<span class="t" style="left:697.00px;top:156.69px;font-size:6.8px;line-height:8.16px;color:#605e5c;transform-origin:0 50%;transform:scaleX(0.875);">Time</span>
<svg class="b" style="left:22.50px;top:446.00px;" width="4" height="5" viewBox="0 0 4 5"><path d="M3 0.6 L0.8 2.5 L3 4.4 Z" fill="#c8c6c4"/></svg>
<svg class="b" style="left:33.00px;top:446.00px;" width="4" height="5" viewBox="0 0 4 5"><path d="M1 0.6 L3.2 2.5 L1 4.4 Z" fill="#c8c6c4"/></svg>
<div class="b" style="left:40.60px;top:439.50px;width:0.80px;height:17.00px;background:#dddbd9;"></div>
<div class="b" style="left:72.40px;top:439.50px;width:0.80px;height:17.00px;background:#dddbd9;"></div>
<span class="t" style="left:51.75px;top:444.98px;font-size:6.3px;line-height:7.56px;color:#484644;">Info</span>
<span class="t" style="left:81.87px;top:444.88px;font-size:6.3px;line-height:7.56px;color:#484644;transform-origin:50% 50%;transform:scaleX(0.971);">Overview</span>
<div class="b" style="left:117.60px;top:439.10px;width:81.60px;height:18.40px;background:#ffffff;"></div>
<div class="b" style="left:117.60px;top:455.40px;width:81.60px;height:1.50px;background:#117865;"></div>
<span class="t" style="left:126.81px;top:444.42px;font-size:6.2px;line-height:7.44px;color:#252423;font-weight:bold;transform-origin:50% 50%;transform:scaleX(0.942);">District Monthly Sales</span>
<span class="t" style="left:208.32px;top:444.88px;font-size:6.3px;line-height:7.56px;color:#484644;transform-origin:50% 50%;transform:scaleX(0.937);">New Stores</span>
<div class="b" style="left:251.00px;top:439.60px;width:20.00px;height:16.80px;background:#117865;border-radius:1px;"></div>
<svg class="b" style="left:257.50px;top:444.50px;" width="7" height="7" viewBox="0 0 7 7"><path d="M3.5 0.8 V6.2 M0.8 3.5 H6.2" stroke="#fff" stroke-width="1.3"/></svg>
<span class="t" style="left:2.80px;top:459.28px;font-size:6.1px;line-height:7.32px;color:#605e5c;transform-origin:0 50%;transform:scaleX(0.968);">Page 3 of 4</span>
<svg class="b" style="left:38.00px;top:459.80px;" width="6" height="7" viewBox="0 0 6 7"><rect x="0.8" y="2.8" width="4.4" height="3.4" rx="0.6" fill="none" stroke="#7a7876" stroke-width="0.65"/><path d="M1.8 2.8 V1.8 C1.8 0.4 4.2 0.4 4.2 1.8 V2.8" fill="none" stroke="#7a7876" stroke-width="0.65"/></svg>
<span class="t" style="left:47.20px;top:459.28px;font-size:6.1px;line-height:7.32px;color:#605e5c;transform-origin:0 50%;transform:scaleX(1.016);">Confidential\Microsoft Extended</span>
<div class="b" style="left:655.60px;top:463.00px;width:2.00px;height:0.80px;background:#484644;"></div>
<div class="b" style="left:660.00px;top:463.00px;width:51.00px;height:0.70px;background:#8a8886;"></div>
<div class="b" style="left:685.00px;top:460.60px;width:1.60px;height:5.40px;background:#484644;"></div>
<svg class="b" style="left:712.60px;top:460.20px;" width="6" height="6" viewBox="0 0 6 6"><path d="M3 0.6 V5.4 M0.6 3 H5.4" stroke="#484644" stroke-width="0.8"/></svg>
<span class="t" style="left:724.60px;top:459.28px;font-size:6.1px;line-height:7.32px;color:#605e5c;transform-origin:0 50%;transform:scaleX(0.993);">100%</span>
<svg class="b" style="left:747.50px;top:459.60px;" width="9" height="7.4" viewBox="0 0 9 7.4"><rect x="0.6" y="0.6" width="7.8" height="6.2" fill="#8a8886" stroke="#605e5c" stroke-width="0.6"/><path d="M2 2.2 L3.2 3.7 L2 5.2 Z M7 2.2 L5.8 3.7 L7 5.2 Z" fill="#fff"/><rect x="3" y="2.2" width="3" height="3" fill="#fff"/></svg>
</div></body></html>
